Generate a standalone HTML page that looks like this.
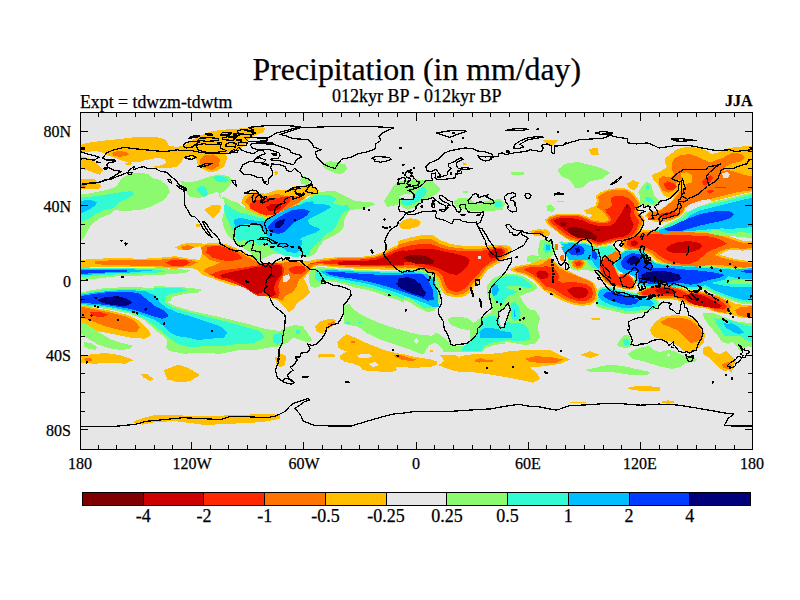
<!DOCTYPE html>
<html lang="en"><head><meta charset="utf-8"><title>Precipitation (in mm/day)</title>
<style>
html,body{margin:0;padding:0;background:#fff;}
body{width:800px;height:600px;overflow:hidden;font-family:"Liberation Serif",serif;}
svg{display:block}
text{font-family:"Liberation Serif",serif;fill:#000;stroke:#000;stroke-width:0.25px}
</style></head><body>
<svg width="800" height="600" viewBox="0 0 800 600">
<rect width="800" height="600" fill="#fff"/>
<defs><clipPath id="mapclip"><rect x="80" y="112" width="672" height="337"/></clipPath></defs>
<rect x="80" y="112" width="672" height="337" fill="#E6E6E6"/>
<g clip-path="url(#mapclip)" shape-rendering="crispEdges">
<path fill="#FFBE00" d="M79,146 86,143 100,141 120,139 140,136.6 160,137.6 166,140 169,145.6 176,147 184,145.6 189,142 200,135.6 210,131.6 220,130 240,128.4 250,127.6 260,127 265,128 264,132 256,135 250,138 246,143 240,150 232,151 226,153 227,159 224.4,166.4 218,170.4 210,172.4 204,169.6 198,166 196.6,160 192,156.4 184,157.2 181,163 176,167 166,168.4 156,168 153.6,166.4 160,165.6 166,163 165,159 156,158 146,160 138,162.4 128,162.4 123,161 118,159 112,157 106,155 104,153 96,151 86,152 79,152.4ZM125,163 131,162 132,164.4 126,165ZM79,155.6 88,158 96,163 103,170 100,175 92,172 86,170 79,168ZM79,179 94,179 102,186 98,189 88,189 79,189.6ZM204,210 212,205 221,205.6 220,212 213,218 208,214ZM195.6,223.6 200,224.4 199.6,227.2 196,226.4Z"/>
<path fill="#8CFA6E" d="M79,195 92,193 106,190 116,187 122,178 132,173 148,173.6 152,178 160,180 168,186 170,192 164,200 152,206 140,210 124,211 114,210 110,214 100,218 92,224 88,230 84,238 79,242ZM180,181 190,182.4 200,180 208,177 218,174.4 228,176 232.4,180 230,185 225,190 222,193.6 224.4,197 230,200 238,203 244,207.6 252,210.4 260,213 268,215.6 275,216 282,213 292,207 300,201 308,198 320,192.5 335,191 345,196 355,201 372.5,202.5 375,205 362.5,208.8 350,210 345,217.5 342.5,227.5 335,235 325,240 312.5,245 310,253 300,255 290,254 280,254 272,254 264,258 258,262 254,256 248,251 240,246 232,240 228,236 224,228 222,220 224,212 225,205 223.6,199 220,198 218,191.6 208,195 200,198 190,197 187,193 185,188Z"/>
<path fill="#FFBE00" d="M241.2,202.5 243.8,196.2 253.8,191.2 265,193.8 277.5,189.5 287.5,190 295,186.2 310,185 318.8,190 317.5,193.8 307.5,196.2 300,202.5 290,208.8 282.5,212.5 275,216.2 267.5,217.5 257.5,215 247.5,210Z"/>
<path fill="#8CFA6E" d="M322.5,163.8 330,161.2 340,162.5 347.5,168.8 340,174.5 330,171.2 323.8,167.5ZM300,178.8 305,176.2 310,180 307.5,185 301.2,183.8Z"/>
<path fill="#FFBE00" d="M273.8,172.5 276.2,170.8 278.8,173 276.2,175.5ZM79,260 95,258.8 117.5,258 142.5,258.8 162.5,257.5 175,256.2 190,258.8 200,260 202.5,252.5 200,246.2 190,248.8 180,250.5 175,247.5 182.5,243.8 192.5,242.5 205,243.8 215,242.5 225,243.8 235,247.5 245,252.5 252.5,257.5 260,262.5 262.5,265 272.5,262.5 285,260 297.5,260.5 307.5,261.2 320,258.8 340,257 360,257 375,255 385,251.2 395,246.2 404,243.2 404,270.1 400,270 390,270 380,269.5 360,268.8 345,268 330,267 320,265.5 312.5,267.5 308.8,272.5 303.8,278.8 307.5,286.2 310,292.5 305,297.5 297.5,302.5 293.8,308.8 288.8,312 282.5,305 277.5,300 267.5,297.5 257.5,292.5 247.5,288.8 240,286.2 235,286.2 220,281.2 210,277.5 202.5,275 197.5,270 190,267.5 175,268.8 155,267.5 130,267 105,267 90,267.5 79,267.5Z"/>
<path fill="#8CFA6E" d="M79,267.5 105,267.5 130,267.5 155,268 175,269.5 177.5,272.5 165,274.5 142.5,275.5 117.5,276.2 95,278.8 79,280ZM79,293 92.5,290 105,288 130,287 155,288 175,290 190,289.5 200,290 197.5,292.5 185,293.8 172.5,297 168,302.5 175,306.2 190,310.5 210,315 230,319.5 250,324.5 265,328.8 280,331.2 285,327.5 295,325 302.5,326.2 307.5,332.5 312.5,340 307.5,342.5 300,340 292.5,337.5 287.5,342.5 280,346.2 270,347.5 255,350 240,350 220,353.8 200,352.5 185,353.8 170,351.2 166.2,347.5 167.5,340 162.5,335 155,330 150,325 142.5,318.8 130,313.8 110,309.5 95,307.5 79,306.2Z"/>
<path fill="#FFBE00" d="M79,305 95,308 110,310.5 127.5,315 140,321.2 147.5,328.8 151.2,335 145,338.8 130,337.5 117.5,335 105,332.5 90,330 79,330Z"/>
<path fill="#8CFA6E" d="M79,321 88,325 100,333 112,340 124,343.6 132.4,345.6 130,349 120,350 108,348 98,344.4 90,340 79,332.4ZM84,342 92,343.6 97,347 96,350 89,349 84,346.4Z"/>
<path fill="#FFBE00" d="M79,356.2 90,354.5 105,353 120,355 133.8,360 125,363.8 110,362.5 95,363.8 79,362.5ZM163.8,370 180,365 190,368.8 200,375 190,380 167.5,380ZM141.2,374.5 147.5,373.8 150,377.5 143.8,378Z"/>
<path fill="#8CFA6E" d="M312.5,268.5 320,266.8 330,268.2 345,269.2 360,270 380,270.8 400,271.2 404,271.4 404,302.8 395,299 385,295.8 375,292 365,289.5 355,287.5 345,284.5 335,282 325,280.8 320,285.8 315,288.2 310,285.8 308.8,279.5 308.8,273.5Z"/>
<path fill="#FFBE00" d="M318.8,354.2 333.8,353.8 334,357 319.5,357.5ZM315,326.2 320,321.2 330,318.8 336.2,320 332.5,326.2 326.2,330 322.5,333.8 316.2,331.2ZM275,357.5 281.2,353.8 286.2,356.2 285,365 280,367.5 276.2,363.8Z"/>
<path fill="#8CFA6E" d="M384.2,201 388,195 392.5,187.5 397.7,182.2 406,180 415,179.2 424,180 433,181.5 437.5,186 440.5,189.7 436,194.2 430,198 424,200.2 418,204 413.5,207.7 407.5,210 403,207.7 399.2,204 392.5,206.2 387.2,207Z"/>
<path fill="#FFBE00" d="M398.5,224.2 403,220.5 410.5,218.2 418,219.7 421,222.7 418,226.5 410.5,228.7 403,229.5 400,227.2Z"/>
<path fill="#8CFA6E" d="M340,163.5 344.5,164.2 347.5,168 343.7,172.5 340,174.7 337,169.5ZM453.8,201.2 460,197.5 470,198.8 475,203.8 485,201.2 500,198.8 505,203.8 502.5,210 485,211.2 470,211.2 462.5,208.8 455,206.2ZM557.5,170 565,163.8 577.5,162 592.5,165.5 602.5,168.8 610,172.5 602.5,178.8 590,181.2 582.5,187.5 575,187.5 570,180 561.2,176.2ZM511.2,172.5 523.8,172 523.8,174.5 511.8,174.8ZM546.2,206.2 551.2,204.5 555,208.8 550,212ZM462.5,191.2 467.5,191 467.5,193 462.5,193Z"/>
<path fill="#FFBE00" d="M542.5,140.5 558.8,140 551.2,147ZM462.5,161.2 467.5,164.5 463.8,165.5ZM588.8,148.8 597.5,148 598.8,154.5 591.2,154.5ZM544.5,220.2 549,216.5 556.5,214.2 567,213.5 577.5,213.5 585,215.7 589.5,218 592.5,215 586.5,213.5 584.2,210.5 589.5,208.2 595.5,206 597,200 595.5,196.2 600,192.5 607.5,189.5 618,188 627,188.7 633,192.5 637.5,198.5 640.5,203 639,207.5 638.2,212 642,215 645,219.5 643.5,224.7 640.5,229.2 637.5,235.2 631.5,239.3 624,240.8 618,241.7 613.5,242.7 607.5,244.5 601.5,245.7 597,246.8 591,243.8 585,240.8 579,242.3 570,240.8 562.5,236.3 555,230.3 549,225.8ZM627,183.5 633,180.2 639,182.7 637.5,187.2 633.7,190.2 629.2,188ZM540,230 546,229.2 550.5,232.2 549,236 543,236.7 540,236Z"/>
<path fill="#8CFA6E" d="M546.7,206 550.5,204.2 555,209 552,212.3 547.5,210.5ZM557.2,200.7 564,200.7 564,201.9 557.2,201.9ZM638.2,192.5 642,186.5 646.5,182 651,184.2 652.5,189.5 654,195.5 658.5,200 660,204.5 655.5,206 651,203.7 645,200 640.5,197ZM640,189.5 644.5,185 648.2,182.7 651.2,186.5 652,192.5 655,198.5 659.5,203 655,206 649,204.5 644.5,206 640,204.5Z"/>
<path fill="#FFBE00" d="M652,175.2 656.5,173 662.5,170 667,167 664.7,162.5 665.5,158 671.5,153.5 677.5,149 688,146.7 700,148.2 707.5,151.2 712,154.2 719.5,152 728.5,148.2 737.5,146.7 753,146 753,191.7 745,193.2 736,195.5 727,197.7 718,200 709,201.5 700,203 692.5,206 685,210.5 682,215 677.5,218 670,221 662.5,222.5 655,221.7 649,219.5 644.5,215.7 649,211.2 656.5,211.2 662.5,208.2 670,202.2 675.2,196.7 670,197.7 664.7,196.2 661,191 658,185 653.5,179.7Z"/>
<path fill="#8CFA6E" d="M679,218 685,212 689.5,208.2 697,205.2 706,203 715,201.2 724,199.2 733,197 742,194.7 753,192.5 753,238.4 746,237.5 740.8,234.9 732,232.3 721.5,231.4 707.5,231.9 690,233.1 672.5,234.4 660.3,234.9 651.5,232.3Z"/>
<path fill="#FFBE00" d="M620.9,238.4 629.6,233.1 642.8,230.2 655,229.3 669,229.8 683,229.8 697,230.5 711,231.6 724.1,234.5 734.6,238 742.5,240.7 753,241 753,249.8 742.5,250.6 733.8,249.8 727.1,250.6 722.4,252.9 719.8,255 723.3,255.9 732.9,258.5 742.5,260.3 753,261.1 753,269 742.5,269.4 732,268.3 721.5,266.9 711,266.6 702.3,267.8 693.5,269.2 681.3,269 669.9,266.6 661.7,263.8 654.7,259.4 650.1,255 645.9,252.6 637.5,252.6 627.9,251.5 621.8,247.1Z"/>
<path fill="#8CFA6E" d="M634,280.4 635.8,269 632.3,267.3 625.3,269.9 620,269 620,253.3 625.3,249.8 634,248.9 643.6,250.6 649.4,256.4 654.7,261.7 663.8,263.4 676,264.1 690,265.5 702.3,265.9 714.5,266.4 725,267.3 735.5,268.1 753,267.3 753,290 742.5,289.7 732,290 725,289.7 718,288.3 711,287.4 704,289.1 697,290 690,289.7 681.3,287.9 672.5,288.3 663.8,287.9 655,288.3 646.3,287.9 638.4,286.2Z"/>
<path fill="#FFBE00" d="M634,294.4 641,289.7 648,286.2 658.5,283.5 670.8,284.4 680.4,287.4 687.4,290 697,290.4 708.4,292.5 719.8,296.3 729.4,300.9 736.4,304 742.5,304.7 753,305.1 753,318 742.5,318 733.8,315.4 725,313.6 714.5,311.9 705.8,308.4 697,307.2 689.1,305.4 683,302.6 677.8,300.2 670.8,299.1 660.3,299.1 648.9,298.8 640.1,297.9Z"/>
<path fill="#8CFA6E" d="M558,241.7 562.5,241.4 565.5,242 571.5,241.7 579,242.7 585,242 591,244.2 597,247.2 603,245.7 610.5,244.7 615,248 618,254 621,260 624,262.5 621,268.5 615,272.2 610.5,273 604.5,272.2 600,275.2 597,272.2 591,270.7 583.5,270 577.5,270.7 571.5,269.2 568.5,264 567.7,259.2 565.5,255.4 564,249.4 561,244.9Z"/>
<path fill="#FFBE00" d="M570.7,262.2 575.7,258.3 582,259 585.7,263.2 583.2,268.2 577.5,269.7 572.5,267ZM509.3,269.7 514.5,266.7 522,265.2 531,263.7 540,259.9 544.5,256.2 549,256.5 555,261 559.5,266.2 565.5,269.2 571.5,272.2 579,276 586.5,279 592.5,282 596.2,286.5 597.7,292.5 597,300 591,304.5 582,306 573,304.5 564,301.5 555,297 547.5,292.5 543,289.9 538.5,285.4 532.5,279.4 525,274.9 516,272.7ZM599.2,260.2 605.2,255 612,249 618,249.7 624,253.5 624,259.5 619.5,264.7 616.5,270 620.2,275.2 624,278.2 630,279.3 635.2,282.7 636,288.7 630,290.2 622.5,288.7 615.7,287.2 609.3,285.3 604.2,282 600.7,276.7 598.5,270Z"/>
<path fill="#8CFA6E" d="M595.5,306 597,297 596.2,291 600,287.2 606,286.5 615,288 624,290.2 633,292.5 643.5,294.7 654,297.7 657.7,300 660,303.7 657,307.8 651,310.8 645,312 636,313.5 624,313.5 612,310.5 603,309Z"/>
<path fill="#FFBE00" d="M397.5,241.2 410,237.5 422.5,235 432.5,235 440,240 450,243.8 465,246.2 480,246.2 492.5,245 502.5,244.5 510,246.2 512.5,250 507.5,256.2 502.5,261.2 495,265 487.5,270 482.5,277.5 475,285 470,292.5 465,296.2 455,297.5 445,295 440,287.5 437.5,280 432.5,275 425,272.5 415,270 397.5,268.8Z"/>
<path fill="#8CFA6E" d="M397.5,270 407.5,268.8 417.5,269.5 427.5,271.2 435,275 438.8,282.5 441.2,292.5 440,302.5 435,310 427.5,312.5 417.5,307.5 410,302.5 397.5,297.5ZM487.5,285 492.5,278.8 498.8,275.6 507.5,273.8 517.5,274.4 525,276.9 531.2,281.2 536.2,285 537.5,288.1 532.5,291.2 525,293.8 520,296.2 522.5,301.2 527.5,307.5 532.5,312.5 537.5,316.2 540,318.1 535,319.4 531.2,321.2 535,326.2 537.5,331.2 538.1,340 470,340 470,325 476.2,321.2 482.5,316.2 486.2,315 491.2,312.5 492.5,307.5 490,301.2 487.5,295 486.9,290Z"/>
<path fill="#FFBE00" d="M528.8,231.2 540,228.8 548.8,232.5 544.5,236.2 534.5,235.5ZM163.8,370 177.5,365 190,368.8 200,375 190,381.2 177.5,382.5 167.5,378.8ZM141.2,374.5 146.2,373.8 153.8,378.8 150,381.2 145,378ZM133.8,421.2 145,417.5 155,415 175,415 195,416.2 215,416.2 230,415 250,414.5 267.5,413.8 280,415 280,418.8 267.5,421.2 255,422.5 230,423.8 205,425 190,423 175,421.2 155,422 142.5,424.5 135,423.8ZM317.5,355 333.8,354.8 333.8,357 317.5,357.2ZM460,356.2 475,353.8 492.5,354.5 510,351.2 525,350 540,350 550,350 560,355 570,359.5 560,363.8 545,366.2 530,367.5 537.5,373.8 540,378.8 532.5,382.5 520,380 505,377 490,374.5 475,372.5 460,371.2Z"/>
<path fill="#8CFA6E" d="M491,316.5 500,310 535,310 540,317.5 537.5,327.5 540,337.5 535,343.8 525,345 510,342.5 495,341.2 485,345 475,350 461,351.8 461,346.5 470,343.5 476,337.5 479,330 483.5,322.5Z"/>
<path fill="#FFBE00" d="M580,355 590,351.2 600,355 590,358ZM591.2,318 600,317.5 600,320 591.8,320.2Z"/>
<path fill="#8CFA6E" d="M586.2,369.5 600,367 620,366.2 640,370 650,373.8 635,375.5 615,372.5 600,372 590,372.5Z"/>
<path fill="#FFBE00" d="M626.2,388 640,386.2 660,387 660,391.2 645,391.2 632.5,390ZM570,401.8 586.2,401.5 586.2,403 570,403.2ZM650,330 654,323 662,317 674,315 686,316 696,320 702,327 705,334 704,342 700,347 694,351 688,353 682,350 678,346 672,342 664,340 657,338 652,335Z"/>
<path fill="#8CFA6E" d="M627,354 634,350 642,347 649,346 653,350 660,352 668,350 674,351 680,354 688,357 697,359 694,362 686,363 680,367 672,369 662,367 652,364 642,361 632,359ZM620,340 624,335 629,335 632,342 633,346 626,348 620,347 617,345ZM600,366 610,365 620,365.6 632,368 650,372 648,375 636,374 624,372 612,370 600,369Z"/>
<path fill="#FFBE00" d="M626,388 636,386 648,386 660,387.6 656,390 644,391 632,390ZM660,402 668,400.4 676,402 668,404ZM703,348 708,346 712,348 713,352 720,354 726,351 732,356 736,361 733,367 732,374 729,370 724,371 718,367 713,361 708,357 703,354Z"/>
<path fill="#8CFA6E" d="M703,313 710,314 718,317 724,320 732,322 740,323 753,324 753,348 748,346 744,348 740,351 738,348 732,342 728,344 722,342 718,336 713,330 708,324 704,318ZM443,336.5 446,339 450.5,345 461,346.5 461,351.7 452,352.5 443,351.7 444.5,347.2 443,346ZM461,346.5 470,343.5 476,337.5 479,330 483.5,322.5 491,316.5 500,314.2 504.5,313.5 504.5,343.5 494,345 485,348 482,351.7 461,351.7ZM448.2,319.5 452,316.5 461,316.5 468.5,318.7 473,322.5 476,327 473.7,330.7 467,330 459.5,328.5 452,325.5 449,322.5Z"/>
<path fill="#FFBE00" d="M438.5,365.2 444.5,360.7 440,355.5 447.5,354.7 455,354.7 459.5,357.7 467,355.5 476,354.7 485,354 500,353.2 500,375 491,373.5 482,371.2 473,369.7 464,372 455,371.2 446,368.2Z"/>
<path fill="#8CFA6E" d="M155,268 180,269 190,270.5 185,273 165,274.5ZM344.2,305 349.5,304.2 354,309.5 360,314 369,318.5 379.5,323 390,326.7 400.5,329.7 411,332.7 421.5,335 432,335.7 436.5,332.7 441,335 444,339.5 450,342.5 450,352.2 444,351.5 441,347 435,342.5 429,345.5 426,350 423.7,354.5 418.5,353 411,350 402,347 393,344 384,341 375,337.2 367.5,333.5 361.5,329 355.5,326 349.5,325.2 344.2,323.7 343.5,317Z"/>
<path fill="#FFBE00" d="M337.5,342.5 341.2,338 346.5,334.2 352.5,336.5 360,340.2 369,344 378,347.7 387,350.7 396,353 405,354.5 414,356.7 423,358.2 432,359.7 436.5,361.2 437.2,365 432,366.5 423,367.2 414,368 405,367.2 396,366.5 396.7,370.2 390,372.5 381,371.7 372,371 363,370.2 360,366.5 352.5,363.5 345,362 340.5,359 339.7,356 346.5,351.5 342,350 337.5,347ZM330,355.2 334.5,355.2 334.5,356.7 330,356.7ZM429.7,350 432.7,350 432.7,351.5 429.7,351.5Z"/>
<path fill="#8CFA6E" d="M701,280 710,279 722,278.5 753,278.5 753,278.5 753,304.2 744,304.2 736,302.2 728,299.7 720,296.7 713,293.7 706.5,290.5 701.2,285.5ZM703.1,313.1 710,312.5 718.8,315 727.5,318.8 735,321.2 745,322.5 753,323.1 753,337.5 720,337.5 712.5,327.5 706.2,320ZM707,232.2 722,228.5 734,227 753,225.8 753,236 740,236.7 725,236 716,235.2ZM540,240.5 546,239 550.5,241.2 555,245 555,251 552,255.5 547.5,259.2 543,260 539.2,257 537.7,251 539.2,245ZM526.5,257.7 531,254.7 538.5,256.2 540,260 532.5,263 526.5,261.5ZM310,196 319,192.2 331,190.7 335.5,196 341.5,200.5 355,202 368.5,202.7 370,205 358,206.5 347.5,208 346,214 343,220 344.5,226 340,232 331,236.5 323.5,241 319,247 316,253 310,256.7 302.5,257.5 295,250 295,220ZM153.5,286.2 176.2,286.8 192.5,288.1 203.9,290.1 192.5,291.7 179.5,293.8 171.4,297.1 170.6,301.1 160,301.1 153.5,296.2Z"/>
<path fill="#E6E6E6" d="M220,193 223.6,192 224.4,197 221,197.6ZM399.2,196.5 404.5,193.5 410.5,193.5 413.5,195.7 410.5,198.7 403,199.5ZM667,355 668.6,353.4 670.2,355.2 668.6,357ZM413.2,341 417,338 419.2,341.7 416.2,344ZM357,355.2 363,353.7 370.5,354.5 372,356.7 366,358.2 359.2,357.5ZM368.2,364.2 375,362 378.7,365 373.5,367.2ZM684.5,203.7 692,200.7 701,200 710,199.2 711.5,202.2 702.5,205.2 695,208.2 689,212.7 685.2,210.5Z"/>
<path fill="#FF7300" d="M79,184 85,184.4 86,187 79,188ZM112,153 118,150.6 126,152 129,155 120,157 113,155.6ZM200,159 205,155 214,154.4 220,159 219,166 212,170 205,168 200,164Z"/>
<path fill="#32FAD2" d="M79,198 96,196 110,194 122,192 132,191 134,195 126,199 118,203 114,208 104,210 96,214 88,219 79,223ZM213,177 220,175.6 227,177.6 228,181 222,182.4 216,181ZM198,187 203,185.6 207,190 208,195 204,197 200,194 197,190ZM225,203 232.5,208.8 240,212.5 250,215 260,218 268.8,219.5 277.5,216.2 287.5,211.2 300,204.5 310,198 320,194.5 330,195 336.2,198.8 332.5,203.8 340,206.2 347.5,205 350,208.8 342.5,212.5 338.8,220 335,227.5 325,232.5 317.5,235 310,240 305,246.2 300,250 295,246.2 285,245 275,243.8 265,242.5 260,246.2 253.8,240 250,245 245,240 237.5,241.2 235,235 231.2,227.5 226.2,217.5 223.8,208.8Z"/>
<path fill="#FF7300" d="M245,201.2 248.8,196.2 255,193.8 265,196.2 277.5,193.8 286.2,196.2 297.5,196.2 305,197.5 298.8,202.5 287.5,208.8 277.5,212.5 268.8,215 260,212.5 251.2,208.8ZM95,261.2 117.5,260 142.5,260.5 162.5,259.5 175,258 190,260 197.5,262.5 190,266.2 175,267 155,266.2 130,265.5 105,265 95,263.8ZM180,247 187.5,245 195,247 190,249.5 182.5,249.5ZM202.5,253.8 201.2,247.5 207.5,244.5 220,244.5 232.5,248 242.5,253.8 252.5,259.5 262.5,263.8 265,266.2 275,263.8 287.5,262 298.8,262.5 306.2,267.5 308.8,263.8 320,260.5 340,258.2 360,258.2 375,256.5 385,253 395,248 404,245 404,268.2 400,268 385,267.5 360,267 345,266.5 330,265.5 320,264 312.5,265.5 307.5,272.5 303.8,276.2 298.8,280 296.2,287.5 292.5,292.5 285,296.2 282.5,301.2 277.5,298.8 272.5,295.5 265,295.5 255,291.2 247.5,287.5 240,283.8 235,283 220,278.8 210,275 203.8,271.2 207.5,267.5 215,265 220,262.5 210,260Z"/>
<path fill="#32FAD2" d="M79,268.2 105,268 130,268.2 155,269.5 167.5,271.2 155,273 130,273.8 105,275 79,277.5ZM79,294 95,291.2 110,289.5 130,289 150,290 162.5,292.5 166.2,297.5 165,302.5 172.5,307.5 187.5,312 205,316.2 225,321.2 242.5,326.2 260,331.2 265,337.5 255,342.5 240,343.8 220,346.2 205,345.5 195,347.5 185,346.2 175,342.5 167.5,336.2 160,330 152.5,323.8 142.5,317.5 130,312.5 110,308 95,306.2 79,305ZM240,330 250,331.2 260,335 257.5,341.2 247.5,343.8 240,343.8ZM272.5,335 281.2,332.5 283.8,340 277.5,345 272.5,341.2ZM296.2,330 300,330.5 300,333.8 296.5,333.5Z"/>
<path fill="#FF7300" d="M79,306.2 95,309.5 110,312.5 125,316.2 135,321.2 140,327.5 136.2,332.5 125,331.2 115,328.8 105,326.2 92.5,321.2 79,316.2ZM83.8,358.8 90,357.5 92.5,360.5 86.2,362Z"/>
<path fill="#32FAD2" d="M315,271 322.5,268.5 330,269 345,270 360,271 380,271.5 400,271.8 404,271.9 404,299.6 395,295.8 385,292.5 375,289 365,286.5 355,284.5 345,282 335,280 325,279 318.8,282 315,278.2Z"/>
<path fill="#FF7300" d="M327.5,323.8 333.8,321.2 335.5,323.8 330,327Z"/>
<path fill="#32FAD2" d="M400.7,201 406,199.5 413.5,198 415,193.5 418,189.7 424,186.7 427,190.5 425.5,195 421,198.7 416.5,202.5 412,204.7 406,205.5 401.5,204ZM493.8,201.2 501.2,201.2 502.5,206.2 495,207.5Z"/>
<path fill="#FF7300" d="M546.7,220.2 550.5,217.2 557.2,215.3 567,214.5 577.5,214.7 585,217.2 591,220.2 600,221.7 606,221.7 609,219.5 606,215 603,211.2 597,207.5 599.2,201.5 597.7,197 601.5,194 608.2,191 618,189.5 626.2,190.2 631.5,193.7 636,199.2 638.7,203.7 637.5,208.2 636.7,212 640.5,215 643.5,219.5 642,224 639,228.5 636,234.5 630,238.2 624,239.7 618,240.5 613.5,241.7 607.5,243.5 601.5,244.7 597,245.7 591,242.7 585,239.7 579,241.2 570,239.7 562.5,235.2 555,229.2 549.7,224.7Z"/>
<path fill="#32FAD2" d="M645.7,185.7 648.7,185 649.5,188.7 646.5,189.5ZM645,197 651,197.7 654.7,202.2 651,203.3 646.5,200.7Z"/>
<path fill="#FF7300" d="M658.7,179 662.5,176 670,177.5 674.5,175.2 672.2,170 671.5,164 674.5,158 680.5,155 689.5,154.2 697,156.5 703,159.5 710.5,159.5 718,158 724,155.7 730,153.5 736,152.7 742,154.2 745,157.2 742,161 736,162.5 730,164 725.5,167 721.7,171.5 728.5,170 736,172.2 745,175.2 753,176.7 753,190.2 745,191 736,192.5 727,194.7 718,197 709,199.2 700,200.7 691,203.7 685,207.5 682,212.7 677.5,216.5 670,219.5 662.5,221 655,220.2 649,218 646,215 649,212 656.5,212 662.5,209 670,203 676,197 680.5,191 685,186.5 686.5,182 683.5,179 677.5,180.5 676,185 673.7,190.2 668.5,192.5 662.5,191 659.5,185Z"/>
<path fill="#32FAD2" d="M683.5,218 689.5,211.2 697,207.5 706,205.2 715,203.3 724,201.5 733,199.2 742,197 753,194.7 753,233.1 742.5,232.3 732,230.5 721.5,229.8 711,230.5 700.5,231.6 690,232.3 679.5,233.3 669,234 659.4,234 654.1,231.4Z"/>
<path fill="#FF7300" d="M623.5,239.3 630.5,234.9 642.8,232.3 655,231.4 669,231.9 683,231.9 697,232.6 711,233.7 723.3,236.6 733.8,240.1 742.5,242.8 753,243.6 753,248 742.5,248.9 733.8,248 726.8,248.9 719.8,251.5 714.5,255 721.5,257.6 732,260.3 742.5,262 753,262.9 753,267.3 742.5,267.6 732,266.4 721.5,265.2 711,264.6 702.3,265.9 693.5,267.3 681.3,266.9 670.8,264.6 662.9,262 655.9,257.6 651.5,253.3 646.3,250.6 637.5,250.6 628.8,249.8 623.5,246.3Z"/>
<path fill="#32FAD2" d="M634.9,279.2 636.6,269 633.1,266.4 625.3,269 620,268.1 620,254.1 625.3,250.6 634,249.8 643.1,251.5 648.7,257.1 654,262.4 663.8,264.3 676,265 690,266.4 702.3,266.7 714.5,267.3 725,268.1 735.5,269 753,268.1 753,283.9 732,283 718,283.9 707.5,286.2 704,287.4 697,288.8 690,288.6 681.3,286.9 672.5,287.4 663.8,286.9 655,287.4 646.3,286.9 638.9,285.1Z"/>
<path fill="#FF7300" d="M637.5,293.5 644.5,289.7 651.5,286.9 658.5,285.1 670.8,286 679.5,288.6 686.5,291.2 697,291.8 707.5,293.5 718.9,297 727.6,302.3 731.1,306.6 729.4,311 725,312.8 714.5,311 705.8,306.6 697,305.4 690,304 683.9,301.2 678.6,298.8 670.8,297.7 660.3,297.7 649.8,297.2 641.9,296.3ZM735,310 741.3,306.8 753,306.3 753,316.3 745,317 737.4,315ZM620,274.3 626.1,272.5 631.9,276.9 635.8,283.4 631.6,289.1 623.5,289.1 620,286.5Z"/>
<path fill="#32FAD2" d="M559.5,242.3 565.5,242.7 571.5,242.3 579,243.5 585,242.7 591,245 596.2,248 603,247.2 610.5,246.2 614.2,249.5 616.5,254.7 618,260 621,262.5 618,267 613.5,270 609,271.2 604.5,270 600,272.2 597.7,269.2 591.7,267.7 585,258 579,258.7 570,258 567.7,255 565.5,250.5 562.5,246Z"/>
<path fill="#FF7300" d="M572.2,261.7 576,259.5 581.2,260.2 584.2,263.2 582,267 577.5,268.5 573.7,266.2ZM559.5,255.7 564,255 564.7,260.2 561,261.7ZM555,243.5 558,243.5 558,249.5 555,249.5ZM513.8,269.7 519,267.4 525,265.9 532.5,265.2 541.5,264.4 547.5,259.9 550.5,258.7 555,263.2 559.5,268.5 565.5,271.5 573,274.5 580.5,277.5 588,280.5 592.5,283.5 594.7,288 596.2,294 594.7,299.2 589.5,303 582,304.2 573,302.7 564,299.2 556.5,294.7 550.5,291 544.5,289.9 540,283.9 532.5,277.2 525,273.4 516,271.2ZM600.7,261 606,256.5 610.5,254.2 615,251.2 619.5,252.7 621.7,258 618,262.5 615,265.5 615.7,270 618.7,276 622.5,279 628.5,279.7 633,282.7 634.5,287.2 629.2,289.2 622.5,287.7 616.5,286.2 610.2,284.5 605.2,281.5 601.9,276.4 599.7,270Z"/>
<path fill="#32FAD2" d="M597,303.7 598.5,297 597.7,291.7 600.7,288.7 606,287.7 615,289.2 624,291.3 633,293.5 643.5,295.8 653.2,298.8 656.2,300.7 657.7,304.2 654.7,307.5 651,309.3 643.5,310.2 637.5,310.8 630,311.2 621,310.2 612,307.8 603.7,306ZM613.5,266.2 618,258 624,252 633,249 643.5,250.5 648,256.5 645,262.5 639,267.7 631.5,271.5 624,272.2 618,270.7Z"/>
<path fill="#FF7300" d="M397.5,245 410,241.2 422.5,238.8 432.5,239.5 440,243.8 450,247 465,248.8 480,248.8 492.5,247 501.2,246.2 507.5,248.8 508.8,252.5 502.5,258.8 495,262.5 486.2,267.5 481.2,275 473.8,282.5 468.8,290 463.8,293.8 455,295 446.2,292.5 442.5,286.2 440,278.8 435,273.8 425,270.5 415,268 397.5,267Z"/>
<path fill="#32FAD2" d="M397.5,271.2 407.5,270 417.5,270.8 426.2,273 432.5,277.5 436.2,285 437.5,293.8 436.2,302.5 431.2,307.5 425,308.8 417.5,303.8 410,298.8 397.5,293.8ZM491.2,285 495,280.6 501.2,277.5 508.8,275.6 517.5,276.2 523.8,278.8 528.8,282.5 532.5,285.6 530,288.1 523.8,286.9 516.2,285.6 508.8,285.6 506.2,287.5 511.2,290 517.5,291.2 513.8,294.4 507.5,296.2 504.4,301.2 501.2,303.8 496.2,302.5 493.8,297.5 490.6,291.2ZM511.2,303.1 515,301.9 518.8,306.2 520.6,312.5 519.4,318.8 515,321.2 511.9,318.8 510.6,312.5 510,307.5ZM482.5,318.8 488.8,316.2 495,315.6 498.8,318.8 498.1,325 500,330 507.5,327.5 511.2,323.8 517.5,322.5 525,325 528.8,330 530,337.5 477.5,337.5 478.8,327.5Z"/>
<path fill="#FF7300" d="M532.5,232 540,230.5 545,233 540,234.5ZM351.2,340.5 354.5,340.5 354.5,342.5 351.2,342.5ZM525,358.8 535,356.2 550,357 562.5,359.5 557.5,362.5 542.5,363 530,362ZM475,360 492.5,359.8 492.5,361.5 475,361.8Z"/>
<path fill="#32FAD2" d="M462.5,347.5 470,340 477.5,332.5 485,325 492.5,318.8 500,317.5 510,322.5 517.5,327.5 527.5,330 530,340 520,341.2 505,340 492.5,337.5 482.5,342.5 472.5,347.5Z"/>
<path fill="#FF7300" d="M660,322 668,318 680,317.6 690,320 698,326 702,333 701,339 696,342 690,343 686,339 682,335 677,330 670,327 664,325Z"/>
<path fill="#32FAD2" d="M623,340 628,338 630,344 625,346Z"/>
<path fill="#FF7300" d="M722,364 728,362 732,365 728,369 723,367.6Z"/>
<path fill="#32FAD2" d="M714,318 722,320 730,323 740,325 753,327 753,342 746,340 740,336 732,333 724,329 718,324ZM461.7,348 470,345 476,339.7 479.7,332.2 485,324.7 491.7,318.7 500,316.5 504.5,315.7 504.5,340.5 492.5,342.7 485,345.7 480.5,351 462.5,351.3Z"/>
<path fill="#FF7300" d="M475.2,360 480.5,357.7 485,359.7 494,360 485,361.2 479.7,362.7Z"/>
<path fill="#32FAD2" d="M268,238 310,238 312,246 306,254 298,257 285,256 275,251 268,246ZM345.7,322.2 350.2,322.2 350.2,323.7 345.7,323.7ZM357.7,322.2 361.5,322.2 361.5,323.3 357.7,323.3Z"/>
<path fill="#FF7300" d="M393.7,355.2 399,354.5 408,357.5 417,359.7 411,361.2 402,359.7 396,357.5ZM351,341 354.7,341 354.7,342.5 351,342.5Z"/>
<path fill="#32FAD2" d="M710,278.5 720,278 727,276.2 736,278.5 744,279.2 753,279.2 753,302 744,302 736,300 728,297.5 720,294.5 713,291.5 707,288.5 702.5,284.5 702.5,281ZM715,321.2 722.5,318.8 730,320 737.5,322.5 745,325 753,326.2 753,336.2 725,336.2 718.8,327.5ZM717.5,230 725,225.8 734,223.2 753,221.7 753,230 743,232.2 731,233 722,232.2ZM544.5,243.5 549,242.7 552,246.5 550.5,251.7 546,253.2 543,249.5ZM299.5,202.7 310,197.5 317.5,194.5 325,195.2 329.5,197.5 331,202.7 340,205 346,207.2 344.5,212.5 335.5,218.5 337,224.5 332.5,230.5 325,235 320.5,241 314.5,245.5 310,250 309.2,254.5 302.5,256 295,250 292,220ZM153.5,288.4 169.7,288.1 181.1,288.4 189.2,290.1 179.5,292.2 169.7,293.8 163.2,297.9 160,301.1 153.5,299.5Z"/>
<path fill="#E6E6E6" d="M283.2,276 288.5,274.2 290.7,278.2 286.2,282.7 282.5,281.2Z"/>
<path fill="#FFBE00" d="M680.5,173.7 686.5,172.2 692.5,175.2 691.7,182 686.5,184.2 682.7,180.5ZM701.2,152.4 712.4,153.8 725,152.4 734.9,151.2 730,153.8 722.5,158.1 715,160.5 710,162.5 703.7,159.3 698.8,155.6Z"/>
<path fill="#E6E6E6" d="M722.2,173.3 727,171.8 730,174.5 727.7,177.8 723.2,177.5ZM500.6,310.6 507.5,304.4 509.8,310 506.5,322.5 501.5,327.5 499,320Z"/>
<path fill="#8CFA6E" d="M724,281.8 732,280.5 740,280 753,280 753,284.2 740,284.5 732,284Z"/>
<path fill="#00BEFF" d="M79,201 90,200 97,202 95,206 88,210 79,214.4ZM233.8,220 240,217.5 250,220 260,221.2 267.5,221.2 275,217.5 285,212.5 295,207.5 305,202.5 312.5,201.2 315,205 310,210 312.5,215 307.5,220 310,225 302.5,230 300,237.5 295,242.5 285,240 275,238.8 267.5,235 262.5,231.2 260,226.2 250,223.8 240,225 235,227.5Z"/>
<path fill="#FF2800" d="M250,203.5 254.5,200.5 262,199 271,197.5 280,197.5 287.5,196 291.2,197.5 289,202.8 284.5,207.2 280,211.8 274,214.8 266.5,215.5 259,213.2 253,210.2 250,208.8ZM165,262.5 172.5,259.5 185,259.5 190,262.5 185,265.5 172.5,266.2ZM206.2,252.5 207.5,247 217.5,245.5 230,248.8 240,255 242.5,258.8 230,261.2 220,260 212.5,257.5ZM210.5,274.5 219.5,270.7 237.5,268.5 252.5,266.2 263,264.7 272,263.2 281,263.7 284,268.5 283.2,275.2 280.2,280.5 278,286.5 279.5,292.5 278,297.7 272,297.7 266,295.5 257,295.8 245,288 236,284.2 227,281.2 216.5,278.2ZM288.5,268.5 296,265.5 303.5,266.2 306.5,270 302,273.7 296,274.5 290,272.2ZM308.8,263.8 320,261.8 340,259.5 360,259.5 375,258 385,254.5 395,250 404,247 404,266.4 400,266.2 385,265.8 360,265.5 345,265 330,264 320,263.2Z"/>
<path fill="#00BEFF" d="M79,269 100,268.8 120,269.5 137.5,270.8 120,272.5 100,273.8 79,275.5ZM79,295 95,292.5 110,290.8 130,290 145,291.2 155,295.5 160,302.5 166.2,307.5 177.5,312.5 190,316.2 205,321.2 220,326.2 227.5,332.5 223.8,337.5 210,338.8 197.5,340 187.5,337.5 177.5,336.2 170,332.5 163.8,326.2 155,320 142.5,315 130,311.2 110,307 95,305 79,304Z"/>
<path fill="#FF2800" d="M90,312.5 100,312 107.5,314.5 102.5,317 92.5,316.2Z"/>
<path fill="#00BEFF" d="M320,271 330,270 345,271 360,271.8 380,272.5 400,273 415,273 427.5,274 435,282 437.5,292 438.8,307 432.5,307 425,303.2 415,299.5 405,295.8 395,292 385,289 375,285.8 365,283.2 355,281.5 345,279.5 335,277.8 326.2,275.5Z"/>
<path fill="#FF2800" d="M549.7,220.2 553.5,218 559.5,216.5 567,215.7 577.5,216 585,218.7 591,221.7 600,223.2 607.5,223.2 611.2,220.2 609.7,216.5 606,212 605.2,209 609,208.2 612,205.2 610.5,200 612,197 618,195.8 625.5,196.7 630,199.2 633.7,203.7 635.2,208.2 633.7,212.7 636,216.5 639,221 638.2,225.5 636,230.7 633,234.5 628.5,237.5 622.5,238.7 616.5,239.3 610.5,240.8 604.5,242.7 598.5,244.2 592.5,241.7 586.5,238.7 580.5,239.7 573,238.2 565.5,234.2 558,228.5 552.7,224ZM664,183.5 667.7,181.2 673.7,183.5 676.7,186.5 673.7,189.5 667.7,190.2 664.7,187.2ZM702.2,181.2 706,177.5 710.5,175.2 713.5,177.5 710.5,182 706,185.7 703,185ZM706.7,191 712,189.5 714.2,191.7 709.7,193.7ZM715,187.1 725.5,187.1 725.5,188.3 715,188.3ZM658,214.2 664,212.7 673,212 677.5,213.5 673,216.5 665.5,218 659.5,217.2ZM647.5,218 655,217.7 655,219.5 647.5,219.8Z"/>
<path fill="#00BEFF" d="M683.5,221.7 691,215 700,210.5 709,208.2 718,206 727,203.7 736,201.5 745,199.2 753,197.7 753,227 742.5,227.9 732,228.8 721.5,228.4 711,229.1 700.5,230.2 690,230.9 679.5,231.9 669,232.6 661.1,233.1 657.6,230.9Z"/>
<path fill="#FF2800" d="M627,241 634,236.6 642.8,234.9 655,234 669,234.9 683,234.9 697,235.8 711,236.6 721.5,240.1 726.8,243.6 721.5,246.3 714.5,248.9 707.5,252.4 702.3,256.8 697,261.1 690,263.8 681.3,263.8 672.5,262 665.5,259.4 658.5,255 653.3,250.6 646.3,248 637.5,248 630.5,247.1 627,244.5Z"/>
<path fill="#00BEFF" d="M635.8,277.8 637.5,269 634,265.5 625.3,268.1 620,267.3 620,255 625.3,251.5 634,250.6 642.8,252.4 648,257.6 653.3,262.9 663.8,265.2 676,265.9 690,267.3 702.3,267.6 714.5,268.1 725,269 735.5,269.9 753,269 753,273.4 742.5,272.5 733.8,273.4 728.5,276 725,279.5 718,281.3 711,283 704,285.6 697,287.4 690,287.4 681.3,285.6 672.5,286.2 663.8,285.6 655,286.2 646.3,285.6 639.3,283.9Z"/>
<path fill="#FF2800" d="M641,292.6 648,289.1 658.5,286.5 670.8,287.4 679.5,290 684.8,292.6 690,294.4 697,293.2 707.5,295.3 718,299.1 725,304 727.1,306.6 723.3,309.6 714.5,308.9 705.8,304.9 697,303.7 690,302.3 684.8,299.6 679.5,297 670.8,296.1 660.3,296.1 649.8,295.6 642.8,294.9ZM620,276 625.3,274.3 630.5,277.8 634,283 630.5,287.4 623.5,287.4 620,284.8Z"/>
<path fill="#00BEFF" d="M561,247.5 567,244.5 574.5,243 583.5,244.5 589.5,249 591,253.5 597,255 600,259.5 601.5,265.5 598.5,268.5 594.7,265.5 591.7,259.5 586.5,256.5 579,257.2 570,256.5 564,253.5ZM560.2,243.5 565.5,243.8 570,243.2 576,243.8 582,243.5 588,245 593.2,248 596.2,251.7 598.5,256.2 599.2,260 569.2,260 566.2,255.5 567.3,251 564,245.7Z"/>
<path fill="#FF2800" d="M575.2,262.5 579,261 582,263.2 579.7,266.2 576,265.8ZM523.5,269.2 531,267 540,267 546,266.2 552,267 556.5,271.5 559.5,276 558,280.5 562.5,282.7 570,282 579,282.7 586.5,284.2 591,287.2 593.2,292.5 591.7,297.7 586.5,300.7 579,301.5 571.5,299.2 564,295.5 558,291.7 552.7,288 546,286.9 540,280.2 532.5,274.2 525,270.7ZM602.2,261 606,258 610.5,259.5 613.5,264.7 615,270 618,276 621.7,279.7 627,280.5 631.5,282.7 633,286.5 628.5,288 622.5,286.5 616.5,285 610.5,283.5 606,280.5 603,276 600.7,270 600,264.7Z"/>
<path fill="#00BEFF" d="M597.7,294 600,290.2 604.5,288.7 612,289.5 621,291.7 630,294 639,296.2 645,298.5 651,300.3 654,303.7 651,306.7 645,306 637.5,306.7 630,308.2 621,307.5 612,305.2 604.5,302.2 600,298.5ZM616.5,264.7 621,258 627,253.5 634.5,251.2 642,252.7 645,258 642,262.5 636,267 630,270 624,270.7 619.5,268.5Z"/>
<path fill="#FF2800" d="M397.5,248.8 410,245.5 422.5,243.8 432.5,244.5 440,247.5 450,250 465,251.2 480,251.2 491.2,248.8 500,247.5 505,250 505,253.8 498.8,258.8 490,262.5 483.8,267.5 477.5,275 471.2,281.2 466.2,287.5 461.2,291.2 455,292 448.8,289.5 445,283.8 442.5,276.2 437.5,271.2 425,268 415,265.5 397.5,264.5Z"/>
<path fill="#00BEFF" d="M397.5,273 410,272 420,273 427.5,276.2 431.2,282.5 433.8,291.2 432.5,300 427.5,304.5 421.2,300 412.5,295 397.5,290ZM491.9,286.9 495,284.4 498.1,285 498.8,290 496.9,294.4 493.8,296.2 491.5,291.9ZM513.8,310 515.2,309.8 515.6,316.2 514,316.9ZM481.2,330 486.2,328.1 495,328.8 502.5,331.2 511.2,332.5 512.5,337.5 480,337.5ZM480,331.2 487.5,327.5 497.5,330 510,332.5 511.2,336.2 502.5,338 490,336.2 482.5,335ZM724,323 732,325 740,328 744,333 738,334 730,330 725,327ZM479,332.2 483.5,328.5 489.5,327.7 498.5,329.2 500,332.2 500,335.2 492.5,334.2 486.5,333.7 482,335.2ZM279,240 302,240 301,250 296,253 288,252 282,247ZM79,269 105,268.8 130,269.2 152.5,270.5 130,272.5 105,273.5 79,275.5ZM703,280.5 710,283 720,285 730,286.5 740,287.2 753,287.2 753,300 744,300 736,298 728,295.5 720,292.5 713,289.5 708,286.5 704,284ZM722,271 730,270 740,269 753,268.2 753,279 744,278.8 736,278 727,275.8ZM726.2,325 731.2,323.1 737.5,326.2 741.2,331.2 740,333.8 733.8,332.5 728.8,328.8ZM546,245 549.7,245 549.7,249.5 546,249.5ZM615.5,264.5 620,257 629,251 641,251 647,255.5 653,261.5 656,267.5 653,275 641,277.2 639.5,282.5 635,277.2 629,274.2 622.2,272.7 617.7,269.7ZM265,220 274,215.5 284.5,210.2 295,205.7 307,203.5 319,203.5 328,205 331,207.2 325,211 316,215.5 310,218.5 305.5,223 313,226 320.5,229 316,232.7 308.5,235 301,238 298,242.5 299.5,248.5 296.5,253 289,250 280,247 272.5,242.5 266.5,235 264.2,227.5Z"/>
<path fill="#CD0000" d="M265.8,207.2 271,204.2 277,203.5 281.5,205 280,208.8 274.8,211 268.8,211ZM219.5,275.2 230,272.2 242,270 252.5,267.7 263,266.2 272,264.7 279.5,264.7 282.5,268.5 281.7,274.5 278,279 275,283.5 273.5,289.5 276.5,294 270.5,297 264.5,291.7 257,294 251,291 245,286.5 237.5,282.7 230,279 222.5,277.5ZM337.5,262.5 347.5,260.5 360,261.2 375,260 385,257 395,252.5 404,249.8 404,265 400,265 385,264.5 370,265 355,265.5 345,265 338.8,264.5Z"/>
<path fill="#003CFF" d="M79,270 95,269.5 110,270.5 117.5,271.5 105,272.5 79,274ZM79,296.2 95,293.8 110,291.8 130,291.8 140,293.8 147.5,300 155,306.2 165,311.2 168.8,316.2 162.5,318.8 152.5,316.2 142.5,312.5 130,308.8 110,305.5 95,303.8 79,302.5ZM325,272.2 335,271.5 350,273 365,274 380,274.8 395,275 410,274 422.5,273.5 427.5,279.5 432.5,289.5 433.8,299.5 427.5,300.8 420,297.5 410,294 400,290.8 390,287.5 380,284.5 370,282 360,280 350,278.2 340,277 330,274.8Z"/>
<path fill="#CD0000" d="M553.5,221 558,218.7 564,217.7 573,218.3 582,220.2 589.5,223.7 597,225.5 604.5,226.2 610.5,225.5 615,222.5 618,218 621,213.5 624,207.5 627,203.7 630,206 631.5,210.5 630,215 631.5,219.5 633.7,224 632.2,229.2 629.2,233.7 624,236.7 618,237.5 612,238.7 606,240.5 600,242.3 594,240.5 588,237.5 582,238.2 576,236.7 568.5,233 561,227 556.5,224Z"/>
<path fill="#003CFF" d="M670,227 679,222.5 689.5,218 700,214.2 710.5,212 721,210.5 730,211.2 734.5,214.2 730,218 721,221 710.5,223.2 700,225.5 689.5,228.5 682,230.7 670,230.7 667.3,230.5 663.8,228.8Z"/>
<path fill="#CD0000" d="M666.4,248 670.8,244.5 679.5,241.9 690,241 698.8,242.8 702.3,246.3 698.8,249.8 690,252.4 679.5,253.3 670.8,252.4 666.9,250.6ZM630.5,241.9 634.9,240.1 638.4,242.8 634.9,246.3 631.4,245.4Z"/>
<path fill="#003CFF" d="M637.5,276 642.8,270.8 651.5,268.1 663.8,267.6 676,268.7 690,269.9 702.3,270.8 714.5,272.5 725,275.1 719.8,277.8 711,279.5 704,281.3 697,283.9 690,284.8 681.3,283 672.5,283.9 663.8,283.4 655,283.9 646.3,283.4 639.3,281.3ZM624.4,259.4 628.8,255.9 635.8,254.1 640.1,255.9 641,262 643.6,269.9 637.5,272.5 634.9,265.9 630.5,265.2 627,265.5 623.5,263.8Z"/>
<path fill="#CD0000" d="M655,290 662,287.4 670.8,289.1 677.8,291.8 672.5,294.4 663.8,294.4 656.8,292.6ZM684.9,296.3 692.5,293.2 701.2,295.1 710,298.8 716.3,302.4 722.6,305.6 718.7,308.2 710,307.5 701.2,306.3 693.7,304.4 687.6,301.2Z"/>
<path fill="#003CFF" d="M570,249.7 574.5,246 579.7,246.7 583.5,249.7 581.2,253.5 575.2,254.2 571.5,252.7ZM567.7,251 572.2,246.5 577.5,244.2 582,246.5 585,250.2 583.5,254 577.5,255.5 571.5,254.7ZM592.5,250.2 596.2,252.5 597.7,257 595.5,260 591.7,257Z"/>
<path fill="#CD0000" d="M536.3,272.7 540,270.4 546,271.2 549,274.2 547.5,277.9 541.5,279.4 537,277.2ZM567,289.5 573,287.2 580.5,286.8 586.5,288.7 588.7,292.5 585.7,297 579,298.8 573,297 569.2,293.2Z"/>
<path fill="#003CFF" d="M603,295.5 606,292.5 612,291.7 618,293.2 625.5,295.5 633,297.7 639,300 636,303.7 628.5,305.2 621,303.7 613.5,301.5 607.5,299.2ZM621,262.5 625.5,258 631.5,255 637.5,255 640.5,258.7 637.5,262.5 631.5,266.2 625.5,268.5 621.7,266.2Z"/>
<path fill="#CD0000" d="M397.5,252.5 410,250 422.5,248.8 432.5,248.8 442.5,251.2 455,253.8 465,256.2 470,260 467.5,266.2 462.5,271.2 457.5,275 450,273.8 442.5,270 435,267 425,264.5 415,262.5 397.5,261.2ZM487.5,253.8 493.8,249.5 501.2,248.8 503.8,252.5 498.8,257 491.2,258.8Z"/>
<path fill="#003CFF" d="M397.5,275 410,273.8 418.8,275 425,279.5 427.5,286.2 428.8,293.8 425,298 417.5,294.5 410,290.5 397.5,286.2ZM79,270 100,269.5 120,270 133.8,271 120,272 100,272.5 79,274ZM740,270.8 746,270.3 753,270.3 753,272.6 746,272.6 741,272ZM620.7,262.2 624.5,257 632,253.2 639.5,254 642.5,258.5 647.7,260 651.5,264.5 653,269 662,267.5 674,268.2 680,269.7 680,282.5 671,282.5 662,281.7 654.5,282.5 647,283.2 641.7,281.7 639.5,276.5 636.5,271.2 632,270.5 626,269.7 622.2,266.7ZM268,226 274,220 283,214.7 292,210.2 302.5,208.7 310,211 307,215.5 301,219.2 293.5,223 289,227.5 284.5,232 278.5,234.2 272.5,232.7 268.7,229.7Z"/>
<path fill="#E6E6E6" d="M477.5,256.2 481.2,256.2 481.2,259 477.5,259Z"/>
<path fill="#800000" d="M267.5,275.7 273.5,274.8 275,276.7 269,277.8Z"/>
<path fill="#00007D" d="M97.5,300 105,297 117.5,296.2 127.5,298.8 132.5,303 125,306.2 112.5,305 102.5,303ZM396.2,283.2 402.5,280.8 412.5,281.5 420,285.8 426.2,293.2 423.8,297 415,294.5 405,290.8 398.8,287Z"/>
<path fill="#800000" d="M559.5,223.2 562.5,221.7 567,223.2 565.5,226.2 561.7,225.8ZM567,229.2 571.5,227 579,227.7 586.5,230 592.5,233 597,236.7 595.5,240.5 589.5,239 583.5,238.2 577.5,237.5 572.2,235.2 568.5,232.2ZM596.2,228.9 600,228.9 600.3,230.9 596.5,230.9ZM625.5,205.2 628.2,204.9 628.5,207.5 625.8,207.5Z"/>
<path fill="#00007D" d="M642.8,276 648,272.5 655,270.8 663.8,270.8 672.5,272.5 679.5,275.1 681.3,278.6 676,281.3 669,282.1 662,281.3 655,282.1 648,281.3 643.6,279.5ZM626.1,261.1 629.6,257.6 634.9,256.4 636.6,258.9 632.3,262.4 627.9,263.8ZM575.2,248 579,247.2 580.2,251.7 576,253.2Z"/>
<path fill="#800000" d="M403.2,257.7 410,255.2 419,254.7 428,257 434,260.7 432.5,263.7 425,264.5 416,263.7 408.5,261.5Z"/>
<path fill="#00007D" d="M397.5,278.8 407.5,277 415,279.5 421.2,285 423.8,291.2 420,294.5 412.5,290.5 405,286.2 397.5,284.5ZM628.2,260 632.7,256.2 638,256.7 639.5,260 635.7,263.7 630.5,265.2ZM641,275 647,272 656,271.2 668,272 678.5,274.2 681.5,278 677,281 668,281.7 659,281 650,281 644,280.2ZM274.7,223 280,220 285.2,219.2 283.7,223.7 280,227.5 275.5,228.2Z"/>
</g>
<g clip-path="url(#mapclip)" fill="none" stroke="#000" stroke-width="1.25" stroke-linejoin="round" stroke-linecap="round" shape-rendering="crispEdges">
<path d="M102.7,158.2 106.4,153 113.9,149.8 124.2,147.4 136.3,148.9 153.1,150.6 164.3,151.7 177.4,149.8 183,150.8 192.3,150.8 201.6,152.6 214.7,153.6 225.9,153.6 233.4,152.6 239,147 240.8,149.8 248.3,152.6 253.9,153.6 257.6,150.8 263.2,150.8 265.1,153.6 257.6,156.7 253.9,161 248.3,162 242.7,164.8 239.9,170.4 243.6,174.1 252,175 257.6,177.3 262.7,177.8 263.2,181.8 267,184.7 268.8,183.4 268.8,178.8 272.6,175 272.6,171.3 270.7,167.6 271.6,163.8 280,164.8 285.6,166.6 286.6,170.4 291.2,171.7 295,167.9 296.8,170.4 300.6,173.2 302.4,176.9 308,178.8 311.8,181.6 311.8,183.4 306.2,186.2 296.8,186.8 291.2,188.5 285.6,192.2 293.1,189 295.9,189.4 295,191.8 296.8,194.6 302.4,195.6 298.7,197.4 293.1,199.3 293.1,196.5 291.2,196.5 285.6,198.9 283.8,201.5 285.6,202.7 278.2,204.7 275.4,208.6 274.4,211.4 275.4,214.8 271.6,216.7 267.9,218.9 265.1,221.7 264.5,224.5 267,230.5 266.4,233.5 264.7,233.3 262.3,229.2 261.7,225.4 259.1,224.5 255.8,223.9 251.1,223.9 249.2,226 246.4,225.8 240.8,225.2 235.2,228.2 234.3,232.9 233.7,238.5 236.2,244.1 239.9,246.3 244.6,245.6 247.4,241.7 252,240.4 253.9,240.7 253,245 251.5,250.6 255.8,251 260.4,252.1 260.4,257.2 260.1,260.3 262.7,263.7 267,263.3 268.8,262.8 272,264.6 275.4,260.9 278.2,259.6 281.9,257.7 282.8,260 285.6,258.1 289.4,260.9 296.8,260.9 300.6,260.5 302.4,262.8 304.3,264.6 309.9,269.3 315.5,269.7 319.2,272.1 323,278.6 323,280.5 326.7,282.4 333.2,285.2 339.8,286.1 344.4,287.6 350.4,290.2 351,295.4 347.2,301 343.5,304.8 343.5,313.2 339.8,320.6 337.9,323.4 332.3,324.7 326.7,328.1 325.6,332.8 322,338.4 316.4,344 311.8,345.5 307.5,344 309.9,348.6 308,352 300.6,353.3 300,357 295,357 297.2,359.8 294.4,364.5 290.3,367.3 293.1,370.1 287.5,374.8 288.8,378.1 294.6,382.8 291.2,384.1 283.8,382.2 277.2,377.6 275.4,370.1 278.2,362.6 279.1,355.2 279.1,349.6 282.8,342.1 282.8,336.5 284.7,327.2 285.3,317.8 284.9,314.7 281.9,312.2 274.4,306.6 272.2,302.9 268.8,295.4 264.5,291.7 264.7,288.5 267,286.7 265.5,284.6 267,279.6 269.2,277.7 271.6,273 271.8,268.4 270.1,266.5 267.9,263.7 266,266.9 263.2,265 260.4,264.6 257.6,261.8 256.1,260 253,256.2 251.1,255.9 245.5,254.4 240.8,250.3 236.2,251.2 230,249.1 225.9,246.9 220.3,244.1 219.4,240.4 217.5,237 211.9,232 209.1,228.2 205.4,222.3 202.2,221.7 205.4,227.3 209.1,232.9 211.9,237.6 207.2,233.8 203.5,229.2 201.6,225.4 197.9,219.8 195.1,217 191.2,216.1 188.6,212 187.6,209.9 184.8,205.3 184.3,200.2 184.8,194.3 183.5,190.2 186.7,190 186.7,188.5 183,186.6 178.3,184.4 176.4,180.6 173.1,178.2 170.8,176 167.1,172.2 161.5,171.7 155.9,168.9 147.5,168.5 143.8,166.6 139.1,167.6 133.5,169.8 134.4,166.6 129.8,169.4 127.9,172.2 121.4,175 113.9,177.8 109.2,178.8 113.9,176.3 121.4,171.3 113.9,170.4 108.3,167.6 106.4,164.8 109.2,162.5 115.8,161.6 114.8,160.1 106.4,160.1ZM280,134.5 289.4,131.2 300.6,127.8 323,126.9 351,126.3 375.2,126.7 393.9,127.8 388.3,130.2 382.7,133 379,136.8 380.8,140.5 375.2,144.2 375.2,148.9 367.8,151.7 358.4,153.6 351,157.3 341.6,159.2 337.9,163.8 335.1,168.5 330.4,167.2 324.8,164.8 320.2,161 316.4,156.4 315.5,151.7 321.1,149.8 313.6,147 311.8,143.3 308,139.6 293.1,138.6 285.6,135.8ZM371.5,158.2 375.2,156.6 382.7,156.9 389.2,157.3 391.1,159.2 388.3,160.7 380.8,162.2 374.3,161.2 375.2,159.5ZM405.5,213.7 412.6,214.8 421.9,211.8 435,210.9 436.8,211.8 435.3,216.1 436.8,218.3 444.3,220.2 451.8,223.9 453.6,219.8 459.2,219.5 463,221.5 470.4,222.6 476.6,222.1 477,224.5 478.8,228.2 482.6,235.7 485.7,241.3 486.3,246 490,251.6 496.6,257.2 497.1,259 500.3,260.9 511.5,258.1 511.9,260.9 505.9,271.2 502.2,275.8 494.7,283.3 491,288 489.1,292.6 490,299.2 491.9,307.6 485.4,313.2 481.6,317.8 482.2,324.4 477.9,328.1 477,333.7 473.2,338.4 466.7,343.6 457.4,344.5 453.3,345.5 450.5,344 449.9,340.2 447.1,333.7 444.3,329 443.4,321.6 438.7,314.1 438.7,308.5 441.9,302.9 440.9,297.3 438.7,290.8 433.7,284.2 434,278.6 434.4,274 432.2,272.1 427.5,272.5 424.7,268.7 419.1,268.9 412.6,271.5 407,270.8 402.3,272.3 399.5,271.2 394.8,267.4 391.5,264.6 388.3,260 384.6,256.2 383.6,253.1 385.9,249.7 385.9,244.1 384.6,241.3 386.4,236.3 389.2,231.6 392,228.6 397.6,225.4 398.2,221.7 403.2,217.4ZM477,224.5 480.1,222.1 481.6,218.9 483.5,214.2 483.5,211.8 477.9,212.9 473.2,212.4 468.6,212 465.8,208.6 465.8,205.8 464.8,204.3 461.1,204.3 459.2,205.8 461.1,209.6 459.2,212.4 456.4,211.4 455.5,207.7 452.7,204.9 452.7,202.1 448,200.2 443.4,196.5 441.9,195.2 439.3,195.9 439.6,198.4 442.4,201.2 446.2,202.5 450.8,205.5 448,204.9 447.1,206.8 448,207.7 446.2,209.6 445.8,205.8 442.4,204.3 439.3,202.7 435.9,200.2 432.7,197.6 430.3,198.7 425.6,199.7 421.9,199.9 422.3,202.5 417.8,204.3 415.7,206.8 416.3,208.3 415,210.1 412.6,211.8 407.9,212 406,213.3 404.5,211.8 402.3,211.1 399.5,211.4 398.6,208.3 399.9,204 399.5,200.2 401.4,198.9 408.8,199.5 412.9,199.5 414.1,197.2 414.1,194.6 411.1,191.8 407.5,190.3 413.1,189.6 413.3,187.9 416.7,188.1 419.3,186.8 421,185.3 423.8,183.4 425.6,181 429.4,180.4 432.5,180.1 431.6,176.9 431.6,174.1 435.9,172.8 435.5,176 435,177.8 436.8,179.7 442.4,179.7 450.8,178.4 455.5,177.8 455.5,174.1 461.1,173.5 461.7,171.7 460.2,170 468.6,169.1 472.3,168.5 464.8,167.6 458.3,168.5 456.4,165.7 456.1,162.9 463,159.2 461.1,157.7 456.4,160.1 454.6,161.6 449,163.8 448.4,166.6 451.4,168.5 448,170.9 447.1,175 443,176.3 440.6,177.1 440.2,175 437.4,171.3 435.9,169.4 431.2,171.9 426.9,170.7 425.6,166.6 429.4,162.9 435.9,160.7 440.6,157.3 444.3,153.2 449.9,150.8 457.4,149.3 464.3,148 470.4,148.3 474.2,149.3 477.9,151 485.4,151.9 492.8,154.5 491.9,156.4 485.4,156.9 477.9,156 480.7,159.2 485.4,161 491,159.7 491,157.7 495.6,156.6 498.4,156.9 498.8,153.6 502.2,153 505.9,154.5 515.2,152.6 519,152.3 528.3,150.8 530.2,149.8 541.4,151.7 543.2,148 541.4,145.2 547,143.9 551.6,146.1 551.6,152.6 554.4,153.6 554.4,146.1 561.9,145.7 567.5,143.3 578.7,139.9 584.3,139.4 603,138.3 610.4,135.5 617.9,137.3 627.2,138.6 628.2,142.9 636.6,143.9 647.8,142.9 653.4,145.2 659,148 666.4,147 677.6,145.2 688.8,145.5 696.3,146.7 701.9,148 715,150.4 718.7,150.4 729.9,149.8 735.5,151.7 744.8,150.2 752.3,151.7 757.9,153.6 765.4,155.4 771,157.3 766.3,160.1 759.8,159.5 756,158.2 752.3,159.2 748.6,160.1 746.7,163.8 737.4,166.6 733.6,168.5 726.2,168.5 721.5,169.4 720.6,172.2 718.7,176 718.7,178.2 715,181.6 709,185.3 707.5,181.6 706.6,176 709.4,172.6 715,167.6 720.6,163.8 715,165.7 708.4,166.6 705.6,169.8 698.2,169.4 692.6,169.8 683.2,169.8 677.6,173.2 672,178.8 674.8,180.1 679.9,181.6 678.6,185.3 678.6,190 673.9,194.6 669.2,198.9 664.6,200.6 660.8,201 659,202.1 658,204.3 654.3,206.4 657.7,211.4 658,214.2 655.2,215.5 652.1,216.1 652.4,211.4 649.6,209.6 650,206.8 648.3,205.8 644,207.7 643.1,204.3 638.4,207.3 636,207.7 637.5,210.1 642.2,210.5 645,211.4 641.2,213.3 639,215.2 641.2,218.3 643.7,221.7 643.7,224.5 642.2,227.3 639.7,232 636.6,234.8 633.8,237.2 629.5,238.9 623.5,240.4 621.6,242.6 621.1,240.4 617.9,240.4 615.5,242.2 613.8,245 616,248.8 619.4,251.6 620.3,256.2 619.8,259 616,261.1 612.3,264.3 612.3,261.8 608.6,260 607.6,257.7 604.7,255.7 603,257.2 602,260 601.5,263.1 603.9,266.9 606.7,268.9 609.3,272.1 609.5,275.8 610.4,277.9 607.6,276.4 605.4,274.9 603.9,271.2 603.5,268.4 600.2,265.2 600.2,261.8 600.4,258.1 599.2,254.4 598.5,249.7 595.5,249.7 592.7,250.6 592.3,246.9 590.8,243.2 588,240.7 587.7,238.5 584.3,239.4 581.5,240 578.7,241.7 577.8,243.2 575,244.5 569.9,249.3 566.2,251.6 565.8,255.3 565.4,260 564.3,261.3 563.8,263.3 562.3,264.1 561,265.4 558.7,262.8 557.2,259 555.9,256.2 553.5,250.6 552.2,245 552,241.3 551.3,239.4 548.8,241.7 545.1,238.9 547,237.6 544.2,236.6 541.4,234.2 536.7,233.3 531.1,233.5 523.6,232.5 522.3,230.1 518,230.8 512.4,228.6 509.6,224.5 506.8,224.5 505.9,225.4 506.8,227.7 509.6,230.7 510.2,232.9 512.1,232 512.4,234.8 517.1,235.3 521.2,231.6 521.8,234.8 525.9,236.4 527.9,238.5 525.5,242.2 524,245 519.3,247.8 513.9,250.6 507.8,253.4 500.3,256.6 497.1,256.8 496,252.5 495.6,249.7 491.9,244.1 489.1,240.4 486.3,235.3 481.6,228.2 480.1,228.6 477.3,225.1ZM-195,224.5 -191.9,222.1 -190.4,218.9 -188.5,214.2 -188.5,211.8 -194.1,212.9 -198.8,212.4 -203.4,212 -206.2,208.6 -206.2,205.8 -207.2,204.3 -210.9,204.3 -212.8,205.8 -210.9,209.6 -212.8,212.4 -215.6,211.4 -216.5,207.7 -219.3,204.9 -219.3,202.1 -224,200.2 -228.6,196.5 -230.1,195.2 -232.7,195.9 -232.4,198.4 -229.6,201.2 -225.8,202.5 -221.2,205.5 -224,204.9 -224.9,206.8 -224,207.7 -225.8,209.6 -226.2,205.8 -229.6,204.3 -232.7,202.7 -236.1,200.2 -239.3,197.6 -241.7,198.7 -246.4,199.7 -250.1,199.9 -249.7,202.5 -254.2,204.3 -256.3,206.8 -255.7,208.3 -257,210.1 -259.4,211.8 -264.1,212 -266,213.3 -267.5,211.8 -269.7,211.1 -272.5,211.4 -273.4,208.3 -272.1,204 -272.5,200.2 -270.6,198.9 -263.2,199.5 -259.1,199.5 -257.9,197.2 -257.9,194.6 -260.9,191.8 -264.5,190.3 -258.9,189.6 -258.7,187.9 -255.3,188.1 -252.7,186.8 -251,185.3 -248.2,183.4 -246.4,181 -242.6,180.4 -239.5,180.1 -240.4,176.9 -240.4,174.1 -236.1,172.8 -236.5,176 -237,177.8 -235.2,179.7 -229.6,179.7 -221.2,178.4 -216.5,177.8 -216.5,174.1 -210.9,173.5 -210.3,171.7 -211.8,170 -203.4,169.1 -199.7,168.5 -207.2,167.6 -213.7,168.5 -215.6,165.7 -215.9,162.9 -209,159.2 -210.9,157.7 -215.6,160.1 -217.4,161.6 -223,163.8 -223.6,166.6 -220.6,168.5 -224,170.9 -224.9,175 -229,176.3 -231.4,177.1 -231.8,175 -234.6,171.3 -236.1,169.4 -240.8,171.9 -245.1,170.7 -246.4,166.6 -242.6,162.9 -236.1,160.7 -231.4,157.3 -227.7,153.2 -222.1,150.8 -214.6,149.3 -207.7,148 -201.6,148.3 -197.8,149.3 -194.1,151 -186.6,151.9 -179.2,154.5 -180.1,156.4 -186.6,156.9 -194.1,156 -191.3,159.2 -186.6,161 -181,159.7 -181,157.7 -176.4,156.6 -173.6,156.9 -173.2,153.6 -169.8,153 -166.1,154.5 -156.8,152.6 -153,152.3 -143.7,150.8 -141.8,149.8 -130.6,151.7 -128.8,148 -130.6,145.2 -125,143.9 -120.4,146.1 -120.4,152.6 -117.6,153.6 -117.6,146.1 -110.1,145.7 -104.5,143.3 -93.3,139.9 -87.7,139.4 -69,138.3 -61.6,135.5 -54.1,137.3 -44.8,138.6 -43.8,142.9 -35.4,143.9 -24.2,142.9 -18.6,145.2 -13,148 -5.6,147 5.6,145.2 16.8,145.5 24.3,146.7 29.9,148 43,150.4 46.7,150.4 57.9,149.8 63.5,151.7 72.8,150.2 80.3,151.7 85.9,153.6 93.4,155.4 99,157.3 94.3,160.1 87.8,159.5 84,158.2 80.3,159.2 76.6,160.1 74.7,163.8 65.4,166.6 61.6,168.5 54.2,168.5 49.5,169.4 48.6,172.2 46.7,176 46.7,178.2 43,181.6 37,185.3 35.5,181.6 34.6,176 37.4,172.6 43,167.6 48.6,163.8 43,165.7 36.4,166.6 33.6,169.8 26.2,169.4 20.6,169.8 11.2,169.8 5.6,173.2 0,178.8 2.8,180.1 7.9,181.6 6.6,185.3 6.6,190 1.9,194.6 -2.8,198.9 -7.4,200.6 -11.2,201 -13,202.1 -14,204.3 -17.7,206.4 -14.3,211.4 -14,214.2 -16.8,215.5 -19.9,216.1 -19.6,211.4 -22.4,209.6 -22,206.8 -23.7,205.8 -28,207.7 -28.9,204.3 -33.6,207.3 -36,207.7 -34.5,210.1 -29.8,210.5 -27,211.4 -30.8,213.3 -33,215.2 -30.8,218.3 -28.3,221.7 -28.3,224.5 -29.8,227.3 -32.3,232 -35.4,234.8 -38.2,237.2 -42.5,238.9 -48.5,240.4 -50.4,242.6 -50.9,240.4 -54.1,240.4 -56.5,242.2 -58.2,245 -56,248.8 -52.6,251.6 -51.7,256.2 -52.2,259 -56,261.1 -59.7,264.3 -59.7,261.8 -63.4,260 -64.4,257.7 -67.3,255.7 -69,257.2 -70,260 -70.5,263.1 -68.1,266.9 -65.3,268.9 -62.7,272.1 -62.5,275.8 -61.6,277.9 -64.4,276.4 -66.6,274.9 -68.1,271.2 -68.5,268.4 -71.8,265.2 -71.8,261.8 -71.6,258.1 -72.8,254.4 -73.5,249.7 -76.5,249.7 -79.3,250.6 -79.7,246.9 -81.2,243.2 -84,240.7 -84.3,238.5 -87.7,239.4 -90.5,240 -93.3,241.7 -94.2,243.2 -97,244.5 -102.1,249.3 -105.8,251.6 -106.2,255.3 -106.6,260 -107.7,261.3 -108.2,263.3 -109.7,264.1 -111,265.4 -113.3,262.8 -114.8,259 -116.1,256.2 -118.5,250.6 -119.8,245 -120,241.3 -120.7,239.4 -123.2,241.7 -126.9,238.9 -125,237.6 -127.8,236.6 -130.6,234.2 -135.3,233.3 -140.9,233.5 -148.4,232.5 -149.7,230.1 -154,230.8 -159.6,228.6 -162.4,224.5 -165.2,224.5 -166.1,225.4 -165.2,227.7 -162.4,230.7 -161.8,232.9 -159.9,232 -159.6,234.8 -154.9,235.3 -150.8,231.6 -150.2,234.8 -146.1,236.4 -144.1,238.5 -146.5,242.2 -148,245 -152.7,247.8 -158.1,250.6 -164.2,253.4 -171.7,256.6 -174.9,256.8 -176,252.5 -176.4,249.7 -180.1,244.1 -182.9,240.4 -185.7,235.3 -190.4,228.2 -191.9,228.6 -194.7,225.1ZM507.8,193.7 512.4,192.8 515.2,193.3 515.2,196.5 511.5,197.4 510.6,200.2 514.3,201.2 515.2,202.5 514.9,205.8 516.7,207.7 516.7,211.4 512.4,212 509.6,210.7 507.8,208.8 508.3,205.3 505.9,202.1 505,199.3 504,196.9ZM468.6,203 470.4,203.6 475.1,203.6 478.8,202.1 481.6,202.1 484.8,203.4 491,204 494,202.8 493.8,200.8 489.1,198.4 486.3,197.1 488.2,194.6 485.4,195.9 484.4,195.8 482.2,196.5 478.8,197.6 477,195.9 478.8,194.6 475.1,193.5 472.7,195 471.6,196.5 469.7,198.7 468,200.8ZM525.5,193.7 529.2,193.3 531.1,195.6 529.2,198.4 525.9,198 525.1,195.6ZM554.4,193.3 559.1,193 563.8,193.5 562.8,194.6 558.2,194.3 554.4,195ZM406,187.2 409.8,186.6 418.7,184.9 419.5,182.1 416.9,181.6 415.9,179.7 413.5,177.8 412.6,176 410.7,176 412.6,173 408.8,172.8 410.3,171.1 407,171.1 405.1,173.2 406,176 407.3,177.8 409.8,178 410.7,179.7 410.7,180.8 407.9,181.2 408.5,182.5 406.6,183.8 409.8,184.4 410.7,184.9ZM397.6,184.2 404.5,183.1 405.1,180.6 405.8,178.6 402.7,177.3 400.4,178.8 397.6,179.3 398.6,181.2ZM508.3,302.9 510.4,309.4 508.7,313.2 505.5,322.5 504,327.2 500.3,328.1 497.9,324.4 497.1,320.6 499,316.9 498.4,312.2 501.2,310.4 504,308.5 505.9,305.7ZM565.6,262.4 567.9,264.6 569,267.4 567.5,269.1 565.6,269.3 565.3,265.6ZM659,218.9 659.5,222.1 661.8,221.7 662.7,218.3 664.6,218.9 667.4,217.4 668.9,217.8 671.7,216.3 675.4,215.7 677.6,215.2 679.1,213.9 679.5,209.6 681.4,206.8 680.1,203.4 677.6,204.5 677.3,208.6 673.9,211.4 671.7,211.1 670.2,213.7 664.6,214.2 660.8,216.5ZM678.2,203 679.5,201.2 683.8,202.1 687.9,199.7 686,198.4 681.4,195.8 680.6,199.3 678.2,200.2ZM681.4,194.6 684.2,193.1 683.2,189 686,189 683.8,184.4 683.2,180.6 682.3,179.1 681.4,182.5 681.4,187.2ZM642.2,233.5 644,234.2 642,239.4 640.7,237.6ZM619.2,244.5 622.6,243.2 623.5,244.1 620.7,246.5ZM641.2,246 644.4,246.2 644,249.7 643.3,252.5 647.8,256.2 645.9,255.3 642.2,254.9 640.9,252.9 640.3,250.6ZM644,267.4 646.8,264.4 650.6,262.4 652.4,266.5 651.5,268.7 650.4,269.9 647.8,268.4ZM644,258.5 646.3,259 645.9,261.8 644.6,260.9ZM648.3,257.2 650.6,257.7 650,260.9 648.7,260ZM635.3,264.8 639.4,259.6 639.9,260.3 636.2,265.2ZM619.8,277.3 620.7,280.5 621.6,283.3 622.6,286.1 630,288 632.8,287 635.6,282 636.6,278.6 636,274 638.4,271.2 634.7,267.4 632.8,268.4 631,271.2 628.2,273 624.4,275.5 623.5,277.7ZM594.2,270.2 598.3,270.8 603.5,275.8 609.5,280.5 611.4,284.2 614.2,286.1 613.8,291.3 611.4,291.3 607.3,288 603.9,283.3 601.1,279.6 599.2,275.8ZM612.7,293.2 615.7,291.7 618.8,293 623.1,292.4 626.7,293.6 630,295.1 629.7,296.6 623.5,296 617.9,295.1ZM631.9,296 634.7,295.8 638.4,296.2 640.3,296.9 645.9,296.2 645.9,297.1 638.4,297.9 632.8,297.1ZM646.8,299.7 649.6,297.3 653.7,296.2 652.4,297.7 648.7,299.5ZM639.4,279 641.8,278.1 645.9,278.8 649.6,277.7 648.3,279.8 642.2,279.8 640.3,282 643.1,282.2 646.5,282 643.7,283.9 645.5,288 643.1,289.3 641.8,285.5 640.9,290.8 639.4,290.8 639,287 638.1,285.5 639.9,280.9ZM654.3,276.8 656.2,277.7 655.2,280.5 654.7,282 654.1,279.6ZM660.8,282 666.4,282 668.3,286.7 673.5,283.3 679.5,285.4 686,287.6 688.8,290.8 692.2,291.7 690.7,293.2 693.1,295.8 697.2,300.1 691.6,299.2 688.8,296 684.2,295.4 683.2,297.3 679.5,297.5 674.8,296 673.9,293.6 675.4,292.6 673,290.2 668.3,288.7 664.6,288 664.2,285.7 666.4,284.8 662.7,284.6ZM693.5,290.8 697.2,290.8 700.4,288.3 700,289.8 697.8,292.1 694.4,292.1ZM628.2,321.6 629.5,329 627.6,329.4 631,336.5 632.3,340.2 631,344.5 636.6,345.8 640.3,344 646.8,343.8 651.5,340.8 657.1,339.5 661.2,339.3 666.4,341.7 669.2,345.5 671.1,344 673.5,341.5 673.5,345.8 674.8,345.8 677.1,348.6 679.1,351.4 684.2,352.9 687,351.4 689.4,353.3 692.6,351.1 696.3,350.1 697.6,345.8 699.1,342.1 701.5,338.4 703,333.7 701.9,328.1 699.1,325.3 697.8,322.5 694.4,318.4 691.6,316.5 688.8,315 687.9,311.3 687.5,308.5 684.7,307.2 684.2,303.8 682.3,300.7 680.8,304.8 680.4,309.4 679.1,313.2 676.3,313.2 673.5,310.4 669.2,308.5 670.2,305.3 671.7,303.3 668.3,302.9 663.6,302 660.8,303.5 659,305.3 658,308.5 655.2,308.1 652.4,306.6 649.6,309.4 646.8,312.8 644.6,312.6 644.4,315 642.2,317.1 638.4,317.8 633.8,319.1 630,321ZM686.4,356.5 689.8,357.2 693.1,356.8 692.9,359.3 691.6,361.3 688.8,361.9 687.5,359.8ZM738.7,344.7 741.1,346.4 742.6,349.4 744.5,349 744.8,350.7 748.6,350.7 749.3,352.4 746.7,353.9 746.7,355.2 744.8,357.6 742.6,357.8 743,355.7 740.7,353.9 742.4,352.7 742.2,350.5 739.2,345.8ZM738.7,356.1 741.5,357.4 741.1,358.9 738.9,361.7 735.9,363.2 735.1,366 732.7,367.5 729,366.7 727.1,366 729.9,363 733.6,361.1 736.1,358.9 737.7,356.7ZM257.6,239.8 261.4,237.6 266,237.4 272.6,240.4 277.8,242.8 271.6,243.4 270.7,241.9 267.9,240.2 263.2,238.9 259.5,239.8ZM277.2,246.2 280,243.4 285.6,243.5 288.6,245.8 285.6,246.3 282.8,247.5 281,246.5ZM270.1,246.2 273.9,246.5 273.5,247.3 270.7,247.1ZM290.9,246.2 293.7,246.3 293.5,246.9 290.9,246.9ZM267,142.9 274.4,144.6 281.9,147 289.4,149.5 291.2,152.6 300.6,155.4 301.5,157.3 296.8,159.2 295,162.9 293.1,164.8 289.4,163.8 283.8,162 278.2,160.1 271.6,160.5 270.7,159.2 278.2,158.2 280,155.4 279.1,153 272.6,150.8 268.8,149.3 257.6,149.8 252,148 250.2,144.2 257.6,142.9ZM197.9,149.8 207.2,152.6 218.4,152.1 226.8,150.8 220.3,148 220.3,144.2 209.1,144.6 203.5,143.7 196,145.2ZM183,146.1 186.7,148 192.3,147 197,143.3 199.8,142 190.4,141.4 184.8,143.3ZM252,137.7 267,138.1 272.6,135.3 276.3,133 289.4,129.7 300.6,126.5 285.6,125.6 267,125.6 248.3,127.4 253.9,130.2 244.6,130.2 255.8,133 250.2,135.8ZM244.6,137.7 248.3,141.2 267,141.1 267,139 250.2,137.1ZM197.9,140.1 207.2,141.4 218.4,140.5 218.4,138.6 211,137.7 199.8,138.1ZM222.2,139.6 233.4,140.5 235.2,137.7 227.8,136.8 222.2,137.7ZM225.9,146.1 235.2,147 236.2,143.3 229.6,142.4 225.9,144.2ZM238,145.7 246.4,145.2 247.4,142.4 239,142.4ZM239,134 252,134.3 253.9,131.2 242.7,129.3 237.1,131.2ZM253.9,162 263.2,162.9 266,160.1 259.5,157.7 254.8,159.2ZM230.6,151.7 237.1,152.6 238,150.8 233.4,149.8ZM305.6,191.5 311.8,193.1 317.4,193.3 317.7,190.9 315.5,188.1 312.1,187.2 312.7,184.4 309,186.2 307.1,189ZM176.8,185.9 183,187.2 185.8,190.2 183,189.6 178.3,187.2ZM168,179.3 170.5,179.7 171.8,183.1 169,181.6ZM127.9,173.2 132,172.2 131.6,174.1 128.8,174.5ZM102.7,180.6 105.5,179.7 105.9,180.6 102.7,181.2ZM89.6,183.1 95.2,182.7 95.2,183.4 89.6,183.8ZM83.1,183.6 86.8,183.4 86.8,184.2 83.1,184.4ZM96.2,162 100.8,162.3 100.8,162.9 96.2,162.5ZM104,168.1 107,167.9 106.8,168.9 104.2,168.9ZM436.8,133 446.2,131.2 457.4,130.2 466.7,131.2 457.4,134.3 449.9,137.3 444.3,135.8ZM513.4,148 519,148.5 523.6,147 519.9,144.2 528.3,139.6 543.2,137.1 539.5,136.4 528.3,137.7 520.8,140.5 515.2,144.2ZM595.5,133 603,131.2 612.3,133 603,134.9ZM672,139.6 681.4,138.6 688.8,139.6 696.3,140.5 687,140.9 677.6,141.4ZM505.9,130.6 519,130.8 528.3,129.3 520.8,128.4 509.6,129.3ZM749.5,147.6 755.1,147.2 757,148 750.4,148.3ZM77.5,147.6 83.1,147.2 85,148 78.4,148.3ZM431.8,204 434.2,204 434.2,207.3 432.2,207.7ZM432.5,201 434,200.4 433.8,203 432.7,202.8ZM439.6,209.6 445.2,209.2 444.7,211.8 440.2,210.5ZM460.4,214.2 465.2,214.8 464.8,215.2 460.4,214.8ZM476.6,215.2 480.7,214 479.4,215.7 477,215.7ZM125.1,242.8 127,243.5 125.8,245 125.1,243.9ZM121,240.2 121.9,240.4 121.5,240.9ZM302.4,376.3 308,376.4 307.1,377.9 302.8,377.6ZM284.7,378.9 288.4,378.7 294.6,382.8 291.2,384.1 283.8,382.2 281.9,380.9ZM345.4,381.3 349.1,382 349.1,382.8 345.4,381.9ZM544.7,372 547.9,372.3 547,373.3 545.1,372.9ZM722.4,318.2 728,321.9 727.1,322.3 722.4,319ZM747.3,313.2 749.7,313.2 749.3,314.5 747.5,314.3ZM516,257 518,257 517.8,257.5 516,257.4ZM475.7,279.9 479.8,279.9 479.8,284.6 476,285.2ZM471,287 471.9,289.8 473.8,296.4 472.9,296.6 471,290.8ZM479.8,298.6 481.3,302 481.6,307.2 480.7,306.6 480.1,302ZM244.6,193.1 252,190 257.6,191.3 258.6,193.7 253.9,193.7 252,197.4 253,202.1 254.8,202.1 255.8,197.4 258.2,195 260.4,195 261.4,198.4 262.3,200.2 263.8,199.7 264.2,196.1 267,197.1 263.2,200.2 260.8,202.7 267,201.5 268.8,200.6 267.9,199.3 273.9,198.4 273.5,199.5 268.8,199.9 268.8,200.6 262.3,203 260.4,202.1 262.3,196.5 258.6,193.7 253.9,193.7 248.3,193.1ZM231.9,180.6 235.2,180.1 236.2,186.2 234.3,184.4ZM184.8,157.3 192.3,155.4 196,157.3 192.3,159.2 186.7,158.8ZM197.9,166.6 205.4,163.8 211.9,163.5 208.2,165.1 201.6,167ZM610.4,184.4 615.1,181.6 620.7,176.5 621.6,176.9 617.9,181.2 612.3,184.4ZM188.6,138.3 197.9,137.1 199.8,135.8 192.3,136.2ZM220.3,134.9 229.6,134.9 231.5,133 222.2,132.7ZM236.2,140.5 241.8,141.1 241.8,139.6 237.1,139.4ZM265.1,143.3 272.6,142.9 274.4,144.4 267.9,144.8ZM271.6,153.6 276.3,153.9 276.3,155.1 272.6,154.9ZM261.4,163.1 266,163.5 267,164.8 262.3,164.4ZM266,164.2 268.3,164.2 267.9,165.7 266.4,165.5ZM263.2,181.4 266.4,181.4 266.4,181.9 263.2,181.9ZM295.9,187.4 300.6,188.3 300.9,188.8 296.5,188.1ZM296.3,193.1 300.6,193.7 300,194.6 296.5,194.1ZM301.5,194.6 303.7,192.8 304.7,194.6 302.4,195.6ZM278.2,204.7 281.9,203.8 281.9,204.2 278.5,204.9ZM229.6,137.3 235.2,138.3 237.1,136.8 231.5,136.2ZM207.2,135.8 212.8,135.8 212.8,134.5 207.2,134.3ZM205.4,134.3 211,134.3 211,133.4 205.4,133.4ZM233.4,134.9 239,135.3 239,133.8 233.4,133.4ZM217.5,143.9 221.2,144.2 221.2,142.9 217.9,142.7ZM506.5,151.1 509.3,151.1 509.3,152.1 506.8,152.1ZM603,133.4 611.4,134 610.4,135.1 603.9,134.7ZM672,138.6 676.7,138.3 678.6,140.1 673.9,140.9ZM269.8,230.7 272,230.8 272.2,231.6 270.1,231.2ZM270.1,233.8 271.3,233.8 271.4,235.7 270.3,235.3ZM300.9,260.3 302.4,260.3 302.4,261.6 300.9,261.6ZM321.5,280.9 325.2,281.1 325.6,282.9 322,283.5ZM277.8,358.7 279.1,358.9 278.7,361.5 277.4,360.8ZM489.5,291.3 490,291.3 490,292.4 489.7,292.4ZM432.2,273.6 432.9,273.6 432.9,274.3 432.2,274.3ZM420.8,206.2 422.6,206 422.3,207.1 421,207ZM450.3,172.4 451.8,172.6 451.2,174.1 450.3,173.9ZM437.2,176.3 439.6,176 439.3,177.8 437.2,177.5ZM457.4,170.6 459.2,170.4 459.8,171.7 457.4,171.9ZM659.7,223.8 660.8,223.8 660.7,224.1 659.7,224.1ZM651.9,218 653.2,218 653,218.5 651.9,218.5ZM589.3,255.3 589.9,255.5 589.5,258.8 589,258.5ZM597.7,277.9 598.5,278.1 599,279.4 598.3,279.4ZM612.7,283.5 614.2,283.5 615.3,285.9 613.8,285.4ZM630,295.6 632.3,295.8 631.9,296.9 630.2,296.4ZM638.4,298 641.8,298.8 640.9,299.5 638.8,298.8ZM651.5,286.3 653.7,286.5 653.4,287.6 651.7,287.2ZM655.2,285.9 660.5,286.1 659.9,287.2 655.4,286.8ZM648.1,257.2 650.6,257.5 650.8,259.6 649.5,260ZM645,260.2 646.8,260.2 646.3,263.3 645,262.6ZM641.1,255.5 642.9,255.7 642.7,257.5 641.8,257.4ZM697.8,285.4 701,287 701.9,289.1 700.6,288.3ZM704.9,290.8 707.1,292.3 706.9,293.4 705.3,292.1ZM714,297.9 716.5,298.4 715.9,299 714.2,298.6ZM727.3,308.5 728.4,308.9 729.2,311.3 728.4,311.1ZM747.3,313.2 749.7,313.2 749.3,314.5 747.5,314.3ZM671.3,347.1 673.9,347.3 673.2,347.7 671.3,347.7ZM729.2,367.9 730.3,368 729.9,368.6 729.2,368.4ZM80.3,426.1 99,426.7 117.6,426.1 136.3,424.2 145.6,421.4 164.3,419.6 183,417.7 201.6,418.6 220.3,419.6 229.6,416.8 248.3,416.8 267,417.7 276.3,415.8 285.6,411.2 289.4,406.5 293.1,403.7 300.6,400.9 308,398.7 309.9,400 304.3,401.8 300.6,404.6 295,408.4 300.6,414.9 302.4,419.6 304.3,421.4 313.6,425.2 332.3,426.1 351,426.1 360.3,423.3 369.6,420.5 382.7,416.8 393.9,414 407,412.7 416.3,411.2 435,411.2 453.6,411.2 472.3,409.9 481.6,409.3 491,408.9 500.3,407.1 509.6,405.6 519,404.3 528.3,406.1 537.6,406.5 547,408.4 556.3,410.2 561.9,408.4 569.4,405.6 584.3,405 603,403.7 621.6,403.7 640.3,405.2 659,404.1 677.6,405 696.3,408 715,411.2 724.3,413 733.6,414 728,418.6 724.3,425.2 733.6,426.1 752.3,426.1M245.9,280.9 246.9,280.9 246.9,281.9 245.9,281.9ZM-426.1,280.9 -425.1,280.9 -425.1,281.9 -426.1,281.9ZM247.2,281.5 248.2,281.5 248.2,282.5 247.2,282.5ZM-424.8,281.5 -423.8,281.5 -423.8,282.5 -424.8,282.5ZM154.5,296.8 155.5,296.8 155.5,297.8 154.5,297.8ZM-517.5,296.8 -516.5,296.8 -516.5,297.8 -517.5,297.8ZM156.3,298.3 157.3,298.3 157.3,299.3 156.3,299.3ZM-515.7,298.3 -514.7,298.3 -514.7,299.3 -515.7,299.3ZM136.7,312.9 137.7,312.9 137.7,313.9 136.7,313.9ZM-535.3,312.9 -534.3,312.9 -534.3,313.9 -535.3,313.9ZM133,311.2 134,311.2 134,312.2 133,312.2ZM-539,311.2 -538,311.2 -538,312.2 -539,312.2ZM94.7,305.8 95.7,305.8 95.7,306.8 94.7,306.8ZM-577.3,305.8 -576.3,305.8 -576.3,306.8 -577.3,306.8ZM97.2,306.7 98.2,306.7 98.2,307.7 97.2,307.7ZM-574.8,306.7 -573.8,306.7 -573.8,307.7 -574.8,307.7ZM89.1,319.2 90.1,319.2 90.1,320.2 89.1,320.2ZM-582.9,319.2 -581.9,319.2 -581.9,320.2 -582.9,320.2ZM91,314.9 92,314.9 92,315.9 91,315.9ZM-581,314.9 -580,314.9 -580,315.9 -581,315.9ZM738.7,277.4 739.7,277.4 739.7,278.4 738.7,278.4ZM66.7,277.4 67.7,277.4 67.7,278.4 66.7,278.4ZM122,276.5 123,276.5 123,277.5 122,277.5ZM-550,276.5 -549,276.5 -549,277.5 -550,277.5ZM735,266.9 736,266.9 736,267.9 735,267.9ZM63,266.9 64,266.9 64,267.9 63,267.9ZM729.4,263.2 730.4,263.2 730.4,264.2 729.4,264.2ZM57.4,263.2 58.4,263.2 58.4,264.2 57.4,264.2ZM711.1,267.1 712.1,267.1 712.1,268.1 711.1,268.1ZM39.1,267.1 40.1,267.1 40.1,268.1 39.1,268.1ZM699.2,266.2 700.2,266.2 700.2,267.2 699.2,267.2ZM27.2,266.2 28.2,266.2 28.2,267.2 27.2,267.2ZM720.1,270.1 721.1,270.1 721.1,271.1 720.1,271.1ZM48.1,270.1 49.1,270.1 49.1,271.1 48.1,271.1ZM666.9,266 667.9,266 667.9,267 666.9,267ZM-5.1,266 -4.1,266 -4.1,267 -5.1,267ZM673.4,262.3 674.4,262.3 674.4,263.3 673.4,263.3ZM1.4,262.3 2.4,262.3 2.4,263.3 1.4,263.3ZM117.5,319.6 118.5,319.6 118.5,320.6 117.5,320.6ZM-554.5,319.6 -553.5,319.6 -553.5,320.6 -554.5,320.6ZM211.6,330.6 212.6,330.6 212.6,331.6 211.6,331.6ZM-460.4,330.6 -459.4,330.6 -459.4,331.6 -460.4,331.6ZM363.5,208.1 364.5,208.1 364.5,209.1 363.5,209.1ZM-308.5,208.1 -307.5,208.1 -307.5,209.1 -308.5,209.1ZM368.2,209.4 369.2,209.4 369.2,210.4 368.2,210.4ZM-303.8,209.4 -302.8,209.4 -302.8,210.4 -303.8,210.4ZM384.1,219 385.1,219 385.1,220 384.1,220ZM-287.9,219 -286.9,219 -286.9,220 -287.9,220ZM385,227.2 386,227.2 386,228.2 385,228.2ZM-287,227.2 -286,227.2 -286,228.2 -287,228.2ZM389.7,226.8 390.7,226.8 390.7,227.8 389.7,227.8ZM-282.3,226.8 -281.3,226.8 -281.3,227.8 -282.3,227.8ZM386.7,227.7 387.7,227.7 387.7,228.7 386.7,228.7ZM-285.3,227.7 -284.3,227.7 -284.3,228.7 -285.3,228.7ZM382.2,226.4 383.2,226.4 383.2,227.4 382.2,227.4ZM-289.8,226.4 -288.8,226.4 -288.8,227.4 -289.8,227.4ZM371,250.1 372,250.1 372,251.1 371,251.1ZM-301,250.1 -300,250.1 -300,251.1 -301,251.1ZM371.9,252 372.9,252 372.9,253 371.9,253ZM-300.1,252 -299.1,252 -299.1,253 -300.1,253ZM294.8,219.7 295.8,219.7 295.8,220.7 294.8,220.7ZM-377.2,219.7 -376.2,219.7 -376.2,220.7 -377.2,220.7ZM519.4,319.4 520.4,319.4 520.4,320.4 519.4,320.4ZM-152.6,319.4 -151.6,319.4 -151.6,320.4 -152.6,320.4ZM523.1,317.9 524.1,317.9 524.1,318.9 523.1,318.9ZM-148.9,317.9 -147.9,317.9 -147.9,318.9 -148.9,318.9ZM519.4,288.6 520.4,288.6 520.4,289.6 519.4,289.6ZM-152.6,288.6 -151.6,288.6 -151.6,289.6 -152.6,289.6ZM496.6,301.8 497.6,301.8 497.6,302.8 496.6,302.8ZM-175.4,301.8 -174.4,301.8 -174.4,302.8 -175.4,302.8ZM500.2,303.9 501.2,303.9 501.2,304.9 500.2,304.9ZM-171.8,303.9 -170.8,303.9 -170.8,304.9 -171.8,304.9ZM552.1,259.5 553.1,259.5 553.1,260.5 552.1,260.5ZM-119.9,259.5 -118.9,259.5 -118.9,260.5 -119.9,260.5ZM551.5,261.3 552.5,261.3 552.5,262.3 551.5,262.3ZM-120.5,261.3 -119.5,261.3 -119.5,262.3 -120.5,262.3ZM552.1,264.5 553.1,264.5 553.1,265.5 552.1,265.5ZM-119.9,264.5 -118.9,264.5 -118.9,265.5 -119.9,265.5ZM552.4,267.9 553.4,267.9 553.4,268.9 552.4,268.9ZM-119.6,267.9 -118.6,267.9 -118.6,268.9 -119.6,268.9ZM552.8,270.7 553.8,270.7 553.8,271.7 552.8,271.7ZM-119.2,270.7 -118.2,270.7 -118.2,271.7 -119.2,271.7ZM553,273.5 554,273.5 554,274.5 553,274.5ZM-119,273.5 -118,273.5 -118,274.5 -119,274.5ZM552.8,276.3 553.8,276.3 553.8,277.3 552.8,277.3ZM-119.2,276.3 -118.2,276.3 -118.2,277.3 -119.2,277.3ZM552.4,279.1 553.4,279.1 553.4,280.1 552.4,280.1ZM-119.6,279.1 -118.6,279.1 -118.6,280.1 -119.6,280.1ZM552.3,281.1 553.3,281.1 553.3,282.1 552.3,282.1ZM-119.7,281.1 -118.7,281.1 -118.7,282.1 -119.7,282.1ZM550.9,293.6 551.9,293.6 551.9,294.6 550.9,294.6ZM-121.1,293.6 -120.1,293.6 -120.1,294.6 -121.1,294.6ZM727.4,280.9 728.4,280.9 728.4,281.9 727.4,281.9ZM55.4,280.9 56.4,280.9 56.4,281.9 55.4,281.9ZM750.3,295.9 751.3,295.9 751.3,296.9 750.3,296.9ZM78.3,295.9 79.3,295.9 79.3,296.9 78.3,296.9ZM748.1,315.5 749.1,315.5 749.1,316.5 748.1,316.5ZM76.1,315.5 77.1,315.5 77.1,316.5 76.1,316.5ZM82.6,314.5 83.6,314.5 83.6,315.5 82.6,315.5ZM-589.4,314.5 -588.4,314.5 -588.4,315.5 -589.4,315.5ZM732.2,316.4 733.2,316.4 733.2,317.4 732.2,317.4ZM60.2,316.4 61.2,316.4 61.2,317.4 60.2,317.4ZM730,313 731,313 731,314 730,314ZM58,313 59,313 59,314 58,314ZM145.1,308.9 146.1,308.9 146.1,309.9 145.1,309.9ZM-526.9,308.9 -525.9,308.9 -525.9,309.9 -526.9,309.9ZM163.8,323.1 164.8,323.1 164.8,324.1 163.8,324.1ZM-508.2,323.1 -507.2,323.1 -507.2,324.1 -508.2,324.1ZM117.1,296.8 118.1,296.8 118.1,297.8 117.1,297.8ZM-554.9,296.8 -553.9,296.8 -553.9,297.8 -554.9,297.8ZM95.1,297.2 96.1,297.2 96.1,298.2 95.1,298.2ZM-576.9,297.2 -575.9,297.2 -575.9,298.2 -576.9,298.2ZM86.3,279.6 87.3,279.6 87.3,280.6 86.3,280.6ZM-585.7,279.6 -584.7,279.6 -584.7,280.6 -585.7,280.6ZM596.5,302.8 597.5,302.8 597.5,303.8 596.5,303.8ZM-75.5,302.8 -74.5,302.8 -74.5,303.8 -75.5,303.8ZM613.1,299.6 614.1,299.6 614.1,300.6 613.1,300.6ZM-58.9,299.6 -57.9,299.6 -57.9,300.6 -58.9,300.6ZM560.5,350.6 561.5,350.6 561.5,351.6 560.5,351.6ZM-111.5,350.6 -110.5,350.6 -110.5,351.6 -111.5,351.6ZM486.4,367.4 487.4,367.4 487.4,368.4 486.4,368.4ZM-185.6,367.4 -184.6,367.4 -184.6,368.4 -185.6,368.4ZM512.5,366.6 513.5,366.6 513.5,367.6 512.5,367.6ZM-159.5,366.6 -158.5,366.6 -158.5,367.6 -159.5,367.6ZM397.1,355.2 398.1,355.2 398.1,356.2 397.1,356.2ZM-274.9,355.2 -273.9,355.2 -273.9,356.2 -274.9,356.2ZM392.8,349.3 393.8,349.3 393.8,350.3 392.8,350.3ZM-279.2,349.3 -278.2,349.3 -278.2,350.3 -279.2,350.3ZM405.2,309.9 406.2,309.9 406.2,310.9 405.2,310.9ZM-266.8,309.9 -265.8,309.9 -265.8,310.9 -266.8,310.9ZM388.9,294.7 389.9,294.7 389.9,295.7 388.9,295.7ZM-283.1,294.7 -282.1,294.7 -282.1,295.7 -283.1,295.7ZM428.1,279.4 429.1,279.4 429.1,280.4 428.1,280.4ZM-243.9,279.4 -242.9,279.4 -242.9,280.4 -243.9,280.4ZM429.6,277 430.6,277 430.6,278 429.6,278ZM-242.4,277 -241.4,277 -241.4,278 -242.4,278ZM298.2,246.4 299.2,246.4 299.2,247.4 298.2,247.4ZM-373.8,246.4 -372.8,246.4 -372.8,247.4 -373.8,247.4ZM298.6,247.7 299.6,247.7 299.6,248.7 298.6,248.7ZM-373.4,247.7 -372.4,247.7 -372.4,248.7 -373.4,248.7ZM300.6,249.8 301.6,249.8 301.6,250.8 300.6,250.8ZM-371.4,249.8 -370.4,249.8 -370.4,250.8 -371.4,250.8ZM301.9,255.4 302.9,255.4 302.9,256.4 301.9,256.4ZM-370.1,255.4 -369.1,255.4 -369.1,256.4 -370.1,256.4ZM304.5,255.4 305.5,255.4 305.5,256.4 304.5,256.4ZM-367.5,255.4 -366.5,255.4 -366.5,256.4 -367.5,256.4ZM287,257.2 288,257.2 288,258.2 287,258.2ZM-385,257.2 -384,257.2 -384,258.2 -385,258.2ZM288.3,257.2 289.3,257.2 289.3,258.2 288.3,258.2ZM-383.7,257.2 -382.7,257.2 -382.7,258.2 -383.7,258.2ZM264,244 265,244 265,245 264,245ZM-408,244 -407,244 -407,245 -408,245ZM266.7,243.2 267.7,243.2 267.7,244.2 266.7,244.2ZM-405.3,243.2 -404.3,243.2 -404.3,244.2 -405.3,244.2ZM646.9,261.7 647.9,261.7 647.9,262.7 646.9,262.7ZM-25.1,261.7 -24.1,261.7 -24.1,262.7 -25.1,262.7ZM647.3,260.6 648.3,260.6 648.3,261.6 647.3,261.6ZM-24.7,260.6 -23.7,260.6 -23.7,261.6 -24.7,261.6ZM643.5,256.7 644.5,256.7 644.5,257.7 643.5,257.7ZM-28.5,256.7 -27.5,256.7 -27.5,257.7 -28.5,257.7ZM646.3,257 647.3,257 647.3,258 646.3,258ZM-25.7,257 -24.7,257 -24.7,258 -25.7,258ZM643.4,255.2 644.4,255.2 644.4,256.2 643.4,256.2ZM-28.6,255.2 -27.6,255.2 -27.6,256.2 -28.6,256.2ZM640.2,257.6 641.2,257.6 641.2,258.6 640.2,258.6ZM-31.8,257.6 -30.8,257.6 -30.8,258.6 -31.8,258.6ZM639.4,249.8 640.4,249.8 640.4,250.8 639.4,250.8ZM-32.6,249.8 -31.6,249.8 -31.6,250.8 -32.6,250.8ZM660.2,280.7 661.2,280.7 661.2,281.7 660.2,281.7ZM-11.8,280.7 -10.8,280.7 -10.8,281.7 -11.8,281.7ZM657.5,280.9 658.5,280.9 658.5,281.9 657.5,281.9ZM-14.5,280.9 -13.5,280.9 -13.5,281.9 -14.5,281.9ZM659,283.5 660,283.5 660,284.5 659,284.5ZM-13,283.5 -12,283.5 -12,284.5 -13,284.5ZM666.9,291.6 667.9,291.6 667.9,292.6 666.9,292.6ZM-5.1,291.6 -4.1,291.6 -4.1,292.6 -5.1,292.6ZM661.3,294.2 662.3,294.2 662.3,295.2 661.3,295.2ZM-10.7,294.2 -9.7,294.2 -9.7,295.2 -10.7,295.2ZM658.1,294.9 659.1,294.9 659.1,295.9 658.1,295.9ZM-13.9,294.9 -12.9,294.9 -12.9,295.9 -13.9,295.9ZM654.4,295.1 655.4,295.1 655.4,296.1 654.4,296.1ZM-17.6,295.1 -16.6,295.1 -16.6,296.1 -17.6,296.1ZM652.5,294.4 653.5,294.4 653.5,295.4 652.5,295.4ZM-19.5,294.4 -18.5,294.4 -18.5,295.4 -19.5,295.4ZM650.1,295.1 651.1,295.1 651.1,296.1 650.1,296.1ZM-21.9,295.1 -20.9,295.1 -20.9,296.1 -21.9,296.1ZM648.4,295.5 649.4,295.5 649.4,296.5 648.4,296.5ZM-23.6,295.5 -22.6,295.5 -22.6,296.5 -23.6,296.5ZM701.8,301.3 702.8,301.3 702.8,302.3 701.8,302.3ZM29.8,301.3 30.8,301.3 30.8,302.3 29.8,302.3ZM697.7,298.3 698.7,298.3 698.7,299.3 697.7,299.3ZM25.7,298.3 26.7,298.3 26.7,299.3 25.7,299.3ZM708.9,293.6 709.9,293.6 709.9,294.6 708.9,294.6ZM36.9,293.6 37.9,293.6 37.9,294.6 36.9,294.6ZM711.7,294.9 712.7,294.9 712.7,295.9 711.7,295.9ZM39.7,294.9 40.7,294.9 40.7,295.9 39.7,295.9ZM714.8,301.7 715.8,301.7 715.8,302.7 714.8,302.7ZM42.8,301.7 43.8,301.7 43.8,302.7 42.8,302.7ZM717.8,299.4 718.8,299.4 718.8,300.4 717.8,300.4ZM45.8,299.4 46.8,299.4 46.8,300.4 45.8,300.4ZM726.6,301.1 727.6,301.1 727.6,302.1 726.6,302.1ZM54.6,301.1 55.6,301.1 55.6,302.1 54.6,302.1ZM685.5,354.7 686.5,354.7 686.5,355.7 685.5,355.7ZM13.5,354.7 14.5,354.7 14.5,355.7 13.5,355.7ZM692.1,355.2 693.1,355.2 693.1,356.2 692.1,356.2ZM20.1,355.2 21.1,355.2 21.1,356.2 20.1,356.2ZM86.3,361.9 87.3,361.9 87.3,362.9 86.3,362.9ZM-585.7,361.9 -584.7,361.9 -584.7,362.9 -585.7,362.9ZM731.3,378 732.3,378 732.3,379 731.3,379ZM59.3,378 60.3,378 60.3,379 59.3,379ZM712.4,381.9 713.4,381.9 713.4,382.9 712.4,382.9ZM40.4,381.9 41.4,381.9 41.4,382.9 40.4,382.9ZM725.7,374.6 726.7,374.6 726.7,375.6 725.7,375.6ZM53.7,374.6 54.7,374.6 54.7,375.6 53.7,375.6ZM453.1,132.5 454.1,132.5 454.1,133.5 453.1,133.5ZM-218.9,132.5 -217.9,132.5 -217.9,133.5 -218.9,133.5ZM462.5,137.2 463.5,137.2 463.5,138.2 462.5,138.2ZM-209.5,137.2 -208.5,137.2 -208.5,138.2 -209.5,138.2ZM451.3,141.1 452.3,141.1 452.3,142.1 451.3,142.1ZM-220.7,141.1 -219.7,141.1 -219.7,142.1 -220.7,142.1ZM399.9,147.5 400.9,147.5 400.9,148.5 399.9,148.5ZM-272.1,147.5 -271.1,147.5 -271.1,148.5 -272.1,148.5ZM525.9,128.8 526.9,128.8 526.9,129.8 525.9,129.8ZM-146.1,128.8 -145.1,128.8 -145.1,129.8 -146.1,129.8ZM537.1,128.8 538.1,128.8 538.1,129.8 537.1,129.8ZM-134.9,128.8 -133.9,128.8 -133.9,129.8 -134.9,129.8ZM587.5,130.7 588.5,130.7 588.5,131.7 587.5,131.7ZM-84.5,130.7 -83.5,130.7 -83.5,131.7 -84.5,131.7ZM565.1,142.8 566.1,142.8 566.1,143.8 565.1,143.8ZM-106.9,142.8 -105.9,142.8 -105.9,143.8 -106.9,143.8ZM557.7,131.6 558.7,131.6 558.7,132.6 557.7,132.6ZM-114.3,131.6 -113.3,131.6 -113.3,132.6 -114.3,132.6ZM402.9,164.3 403.9,164.3 403.9,165.3 402.9,165.3ZM-269.1,164.3 -268.1,164.3 -268.1,165.3 -269.1,165.3ZM413.4,167.4 414.4,167.4 414.4,168.4 413.4,168.4ZM-258.6,167.4 -257.6,167.4 -257.6,168.4 -258.6,168.4ZM410.2,169.9 411.2,169.9 411.2,170.9 410.2,170.9ZM-261.8,169.9 -260.8,169.9 -260.8,170.9 -261.8,170.9ZM402.7,172.7 403.7,172.7 403.7,173.7 402.7,173.7ZM-269.3,172.7 -268.3,172.7 -268.3,173.7 -269.3,173.7ZM404.2,174.5 405.2,174.5 405.2,175.5 404.2,175.5ZM-267.8,174.5 -266.8,174.5 -266.8,175.5 -267.8,175.5ZM300.9,247.8 302.1,251.6 302.6,254.4 301.9,257.2M706.6,186.8 701.9,190.9 698.2,194.1 693.5,196.5 688.8,198.4M112,178.8 106.4,180.1 100.8,181.9 94.3,183.1 87.8,183.8 82.2,184.4M688.3,246.9 688.5,252.1 686.6,255.5M647.8,235 651.5,231.4 655.2,230.1 658,227.5"/>
</g>
<g stroke="#000" stroke-width="1" fill="none" shape-rendering="crispEdges">
<rect x="80.5" y="112.5" width="672" height="337"/>
<path d="M98.5,112.5v4.5M98.5,449.5v-4.5M116.5,112.5v4.5M116.5,449.5v-4.5M135.5,112.5v4.5M135.5,449.5v-4.5M154.5,112.5v4.5M154.5,449.5v-4.5M172.5,112.5v4.5M172.5,449.5v-4.5M191.5,112.5v8M191.5,449.5v-8M210.5,112.5v4.5M210.5,449.5v-4.5M228.5,112.5v4.5M228.5,449.5v-4.5M247.5,112.5v4.5M247.5,449.5v-4.5M266.5,112.5v4.5M266.5,449.5v-4.5M285.5,112.5v4.5M285.5,449.5v-4.5M303.5,112.5v8M303.5,449.5v-8M322.5,112.5v4.5M322.5,449.5v-4.5M341.5,112.5v4.5M341.5,449.5v-4.5M359.5,112.5v4.5M359.5,449.5v-4.5M378.5,112.5v4.5M378.5,449.5v-4.5M397.5,112.5v4.5M397.5,449.5v-4.5M416.5,112.5v8M416.5,449.5v-8M434.5,112.5v4.5M434.5,449.5v-4.5M453.5,112.5v4.5M453.5,449.5v-4.5M472.5,112.5v4.5M472.5,449.5v-4.5M490.5,112.5v4.5M490.5,449.5v-4.5M509.5,112.5v4.5M509.5,449.5v-4.5M528.5,112.5v8M528.5,449.5v-8M546.5,112.5v4.5M546.5,449.5v-4.5M565.5,112.5v4.5M565.5,449.5v-4.5M584.5,112.5v4.5M584.5,449.5v-4.5M603.5,112.5v4.5M603.5,449.5v-4.5M621.5,112.5v4.5M621.5,449.5v-4.5M640.5,112.5v8M640.5,449.5v-8M659.5,112.5v4.5M659.5,449.5v-4.5M677.5,112.5v4.5M677.5,449.5v-4.5M696.5,112.5v4.5M696.5,449.5v-4.5M715.5,112.5v4.5M715.5,449.5v-4.5M734.5,112.5v4.5M734.5,449.5v-4.5M80.5,131.5h7.5M752.5,131.5h-7.5M80.5,149.5h4.5M752.5,149.5h-4.5M80.5,168.5h4.5M752.5,168.5h-4.5M80.5,187.5h4.5M752.5,187.5h-4.5M80.5,205.5h7.5M752.5,205.5h-7.5M80.5,224.5h4.5M752.5,224.5h-4.5M80.5,243.5h4.5M752.5,243.5h-4.5M80.5,261.5h4.5M752.5,261.5h-4.5M80.5,280.5h7.5M752.5,280.5h-7.5M80.5,299.5h4.5M752.5,299.5h-4.5M80.5,317.5h4.5M752.5,317.5h-4.5M80.5,336.5h4.5M752.5,336.5h-4.5M80.5,355.5h7.5M752.5,355.5h-7.5M80.5,373.5h4.5M752.5,373.5h-4.5M80.5,392.5h4.5M752.5,392.5h-4.5M80.5,411.5h4.5M752.5,411.5h-4.5M80.5,429.5h7.5M752.5,429.5h-7.5"/>
</g>
<text x="416.8" y="80" font-size="31.8" text-anchor="middle" stroke="#000" stroke-width="0.45">Precipitation (in mm/day)</text>
<text x="416.8" y="102" font-size="18" text-anchor="middle">012kyr BP - 012kyr BP</text>
<text x="80" y="108.4" font-size="17.8">Expt = tdwzm-tdwtm</text>
<text x="752.5" y="106" font-size="16" font-weight="bold" text-anchor="end">JJA</text>
<text x="71" y="137.2" font-size="16" text-anchor="end">80N</text>
<text x="71" y="211.8" font-size="16" text-anchor="end">40N</text>
<text x="71" y="286.5" font-size="16" text-anchor="end">0</text>
<text x="71" y="361.2" font-size="16" text-anchor="end">40S</text>
<text x="71" y="435.8" font-size="16" text-anchor="end">80S</text>
<text x="80.0" y="468.8" font-size="16" text-anchor="middle">180</text>
<text x="192.0" y="468.8" font-size="16" text-anchor="middle">120W</text>
<text x="304.0" y="468.8" font-size="16" text-anchor="middle">60W</text>
<text x="416.0" y="468.8" font-size="16" text-anchor="middle">0</text>
<text x="528.0" y="468.8" font-size="16" text-anchor="middle">60E</text>
<text x="640.0" y="468.8" font-size="16" text-anchor="middle">120E</text>
<text x="752.0" y="468.8" font-size="16" text-anchor="middle">180</text>
<g shape-rendering="crispEdges">
<rect x="82.50" y="492.5" width="61.03" height="13" fill="#800000"/>
<rect x="143.23" y="492.5" width="61.03" height="13" fill="#CD0000"/>
<rect x="203.95" y="492.5" width="61.03" height="13" fill="#FF2800"/>
<rect x="264.68" y="492.5" width="61.03" height="13" fill="#FF7300"/>
<rect x="325.41" y="492.5" width="61.03" height="13" fill="#FFBE00"/>
<rect x="386.14" y="492.5" width="61.03" height="13" fill="#E6E6E6"/>
<rect x="446.86" y="492.5" width="61.03" height="13" fill="#8CFA6E"/>
<rect x="507.59" y="492.5" width="61.03" height="13" fill="#32FAD2"/>
<rect x="568.32" y="492.5" width="61.03" height="13" fill="#00BEFF"/>
<rect x="629.05" y="492.5" width="61.03" height="13" fill="#003CFF"/>
<rect x="689.77" y="492.5" width="61.03" height="13" fill="#00007D"/>
<path d="M143.5,492.5v13M203.5,492.5v13M264.5,492.5v13M325.5,492.5v13M386.5,492.5v13M446.5,492.5v13M507.5,492.5v13M568.5,492.5v13M629.5,492.5v13M689.5,492.5v13" stroke="#000" stroke-width="1" fill="none"/>
<rect x="82.5" y="492.5" width="668" height="13" fill="none" stroke="#000" stroke-width="1"/>
</g>
<text x="143.2" y="522" font-size="18" text-anchor="middle">-4</text>
<text x="204.0" y="522" font-size="18" text-anchor="middle">-2</text>
<text x="264.7" y="522" font-size="18" text-anchor="middle">-1</text>
<text x="325.4" y="522" font-size="18" text-anchor="middle">-0.5</text>
<text x="386.1" y="522" font-size="18" text-anchor="middle">-0.25</text>
<text x="446.9" y="522" font-size="18" text-anchor="middle">0.25</text>
<text x="507.6" y="522" font-size="18" text-anchor="middle">0.5</text>
<text x="568.3" y="522" font-size="18" text-anchor="middle">1</text>
<text x="629.0" y="522" font-size="18" text-anchor="middle">2</text>
<text x="689.8" y="522" font-size="18" text-anchor="middle">4</text>
</svg></body></html>
